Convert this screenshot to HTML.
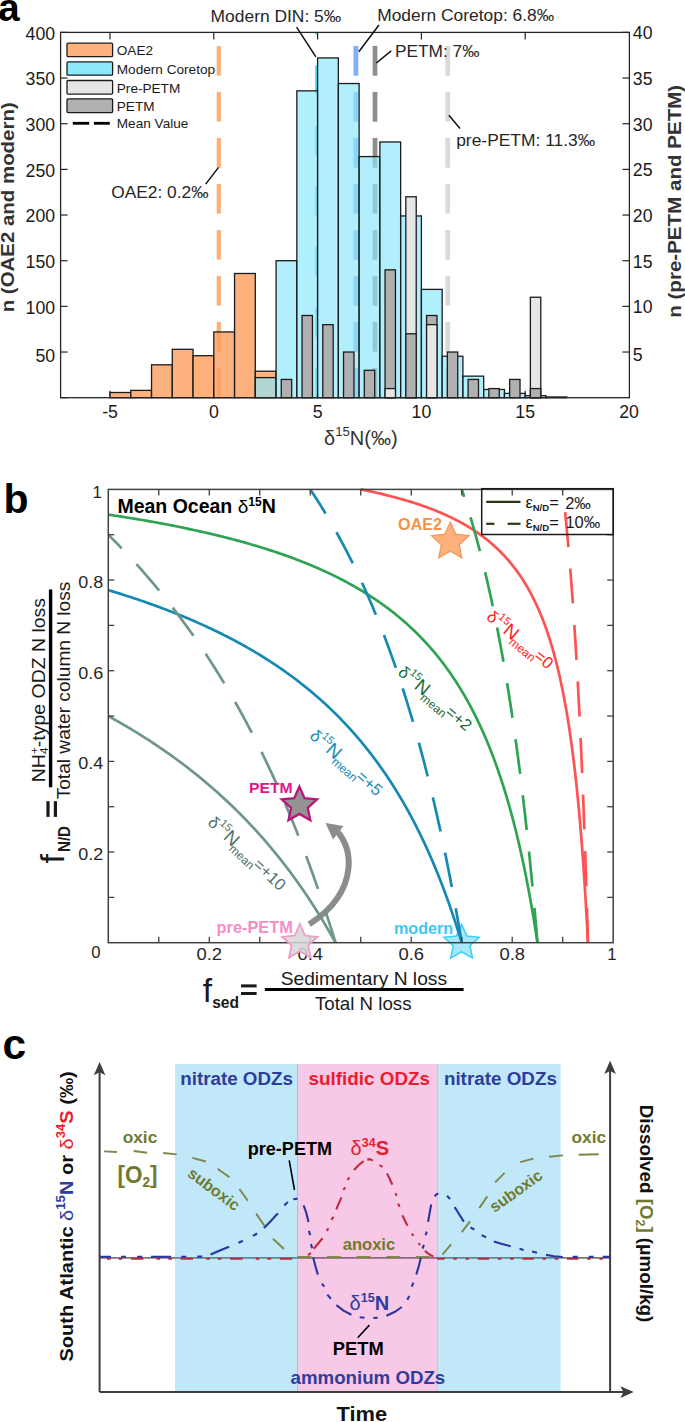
<!DOCTYPE html>
<html><head><meta charset="utf-8"><style>
html,body{margin:0;padding:0;background:#fff;}
svg{display:block;font-family:"Liberation Sans",sans-serif;}
</style></head><body>
<svg width="685" height="1422" viewBox="0 0 685 1422">
<rect width="685" height="1422" fill="#fff"/>
<line x1="218.8" y1="397.7" x2="218.8" y2="367.9" stroke="#fdb07a" stroke-width="4.2" />
<line x1="218.8" y1="351.7" x2="218.8" y2="321.9" stroke="#fdb07a" stroke-width="4.2" />
<line x1="218.8" y1="305.7" x2="218.8" y2="275.9" stroke="#fdb07a" stroke-width="4.2" />
<line x1="218.8" y1="259.7" x2="218.8" y2="229.9" stroke="#fdb07a" stroke-width="4.2" />
<line x1="218.8" y1="213.7" x2="218.8" y2="183.9" stroke="#fdb07a" stroke-width="4.2" />
<line x1="218.8" y1="167.7" x2="218.8" y2="137.9" stroke="#fdb07a" stroke-width="4.2" />
<line x1="218.8" y1="121.7" x2="218.8" y2="91.9" stroke="#fdb07a" stroke-width="4.2" />
<line x1="218.8" y1="75.7" x2="218.8" y2="45.9" stroke="#fdb07a" stroke-width="4.2" />
<line x1="316.6" y1="397.3" x2="316.6" y2="367.7" stroke="#45cdf6" stroke-width="2.6" />
<line x1="316.6" y1="336.8" x2="316.6" y2="307.2" stroke="#45cdf6" stroke-width="2.6" />
<line x1="316.6" y1="276.3" x2="316.6" y2="246.7" stroke="#45cdf6" stroke-width="2.6" />
<line x1="316.6" y1="215.8" x2="316.6" y2="186.2" stroke="#45cdf6" stroke-width="2.6" />
<line x1="316.6" y1="155.3" x2="316.6" y2="125.7" stroke="#45cdf6" stroke-width="2.6" />
<line x1="316.6" y1="94.8" x2="316.6" y2="65.2" stroke="#45cdf6" stroke-width="2.6" />
<line x1="316.6" y1="34.3" x2="316.6" y2="32.4" stroke="#45cdf6" stroke-width="2.6" />
<line x1="355.9" y1="397.7" x2="355.9" y2="367.9" stroke="#7fb0fa" stroke-width="4.8" />
<line x1="355.9" y1="351.7" x2="355.9" y2="321.9" stroke="#7fb0fa" stroke-width="4.8" />
<line x1="355.9" y1="305.7" x2="355.9" y2="275.9" stroke="#7fb0fa" stroke-width="4.8" />
<line x1="355.9" y1="259.7" x2="355.9" y2="229.9" stroke="#7fb0fa" stroke-width="4.8" />
<line x1="355.9" y1="213.7" x2="355.9" y2="183.9" stroke="#7fb0fa" stroke-width="4.8" />
<line x1="355.9" y1="167.7" x2="355.9" y2="137.9" stroke="#7fb0fa" stroke-width="4.8" />
<line x1="355.9" y1="121.7" x2="355.9" y2="91.9" stroke="#7fb0fa" stroke-width="4.8" />
<line x1="355.9" y1="75.7" x2="355.9" y2="45.9" stroke="#7fb0fa" stroke-width="4.8" />
<line x1="375" y1="397.7" x2="375" y2="367.9" stroke="#8f8f8f" stroke-width="4.8" />
<line x1="375" y1="351.7" x2="375" y2="321.9" stroke="#8f8f8f" stroke-width="4.8" />
<line x1="375" y1="305.7" x2="375" y2="275.9" stroke="#8f8f8f" stroke-width="4.8" />
<line x1="375" y1="259.7" x2="375" y2="229.9" stroke="#8f8f8f" stroke-width="4.8" />
<line x1="375" y1="213.7" x2="375" y2="183.9" stroke="#8f8f8f" stroke-width="4.8" />
<line x1="375" y1="167.7" x2="375" y2="137.9" stroke="#8f8f8f" stroke-width="4.8" />
<line x1="375" y1="121.7" x2="375" y2="91.9" stroke="#8f8f8f" stroke-width="4.8" />
<line x1="375" y1="75.7" x2="375" y2="45.9" stroke="#8f8f8f" stroke-width="4.8" />
<line x1="447.7" y1="397.7" x2="447.7" y2="367.9" stroke="#dadada" stroke-width="4.8" />
<line x1="447.7" y1="351.7" x2="447.7" y2="321.9" stroke="#dadada" stroke-width="4.8" />
<line x1="447.7" y1="305.7" x2="447.7" y2="275.9" stroke="#dadada" stroke-width="4.8" />
<line x1="447.7" y1="259.7" x2="447.7" y2="229.9" stroke="#dadada" stroke-width="4.8" />
<line x1="447.7" y1="213.7" x2="447.7" y2="183.9" stroke="#dadada" stroke-width="4.8" />
<line x1="447.7" y1="167.7" x2="447.7" y2="137.9" stroke="#dadada" stroke-width="4.8" />
<line x1="447.7" y1="121.7" x2="447.7" y2="91.9" stroke="#dadada" stroke-width="4.8" />
<line x1="447.7" y1="75.7" x2="447.7" y2="45.9" stroke="#dadada" stroke-width="4.8" />
<line x1="110" y1="397.7" x2="110" y2="390.7" stroke="#262626" stroke-width="1.2" />
<line x1="213.8" y1="397.7" x2="213.8" y2="390.7" stroke="#262626" stroke-width="1.2" />
<line x1="317.6" y1="397.7" x2="317.6" y2="390.7" stroke="#262626" stroke-width="1.2" />
<line x1="421.4" y1="397.7" x2="421.4" y2="390.7" stroke="#262626" stroke-width="1.2" />
<line x1="525.2" y1="397.7" x2="525.2" y2="390.7" stroke="#262626" stroke-width="1.2" />
<line x1="60.6" y1="397.7" x2="67.6" y2="397.7" stroke="#262626" stroke-width="1.2" />
<rect x="110" y="392.49" width="20.76" height="5.21" fill="#fc9f5c" stroke="#1c1c1c" stroke-width="1.3" fill-opacity="0.8"/>
<rect x="130.76" y="390.39" width="20.76" height="7.31" fill="#fc9f5c" stroke="#1c1c1c" stroke-width="1.3" fill-opacity="0.8"/>
<rect x="151.52" y="364.82" width="20.76" height="32.88" fill="#fc9f5c" stroke="#1c1c1c" stroke-width="1.3" fill-opacity="0.8"/>
<rect x="172.28" y="349.3" width="20.76" height="48.4" fill="#fc9f5c" stroke="#1c1c1c" stroke-width="1.3" fill-opacity="0.8"/>
<rect x="193.04" y="355.69" width="20.76" height="42.01" fill="#fc9f5c" stroke="#1c1c1c" stroke-width="1.3" fill-opacity="0.8"/>
<rect x="213.8" y="331.94" width="20.76" height="65.76" fill="#fc9f5c" stroke="#1c1c1c" stroke-width="1.3" fill-opacity="0.8"/>
<rect x="234.56" y="273.49" width="20.76" height="124.21" fill="#fc9f5c" stroke="#1c1c1c" stroke-width="1.3" fill-opacity="0.8"/>
<rect x="255.32" y="371.21" width="20.76" height="26.49" fill="#fc9f5c" stroke="#1c1c1c" stroke-width="1.3" fill-opacity="0.8"/>
<rect x="255.32" y="377.61" width="20.76" height="20.09" fill="#8ee8fc" stroke="#1c1c1c" stroke-width="1.3" fill-opacity="0.68"/>
<rect x="276.08" y="260.7" width="20.76" height="137" fill="#8ee8fc" stroke="#1c1c1c" stroke-width="1.3" fill-opacity="0.68"/>
<rect x="296.84" y="90.83" width="20.76" height="306.87" fill="#8ee8fc" stroke="#1c1c1c" stroke-width="1.3" fill-opacity="0.68"/>
<rect x="317.6" y="57.95" width="20.76" height="339.75" fill="#8ee8fc" stroke="#1c1c1c" stroke-width="1.3" fill-opacity="0.68"/>
<rect x="338.36" y="83.52" width="20.76" height="314.18" fill="#8ee8fc" stroke="#1c1c1c" stroke-width="1.3" fill-opacity="0.68"/>
<rect x="359.12" y="156.59" width="20.76" height="241.11" fill="#8ee8fc" stroke="#1c1c1c" stroke-width="1.3" fill-opacity="0.68"/>
<rect x="379.88" y="141.98" width="20.76" height="255.72" fill="#8ee8fc" stroke="#1c1c1c" stroke-width="1.3" fill-opacity="0.68"/>
<rect x="400.64" y="215.95" width="20.76" height="181.75" fill="#8ee8fc" stroke="#1c1c1c" stroke-width="1.3" fill-opacity="0.68"/>
<rect x="421.4" y="289.38" width="20.76" height="108.32" fill="#8ee8fc" stroke="#1c1c1c" stroke-width="1.3" fill-opacity="0.68"/>
<rect x="442.16" y="356.24" width="20.76" height="41.46" fill="#8ee8fc" stroke="#1c1c1c" stroke-width="1.3" fill-opacity="0.68"/>
<rect x="462.92" y="376.15" width="20.76" height="21.55" fill="#8ee8fc" stroke="#1c1c1c" stroke-width="1.3" fill-opacity="0.68"/>
<rect x="483.68" y="389.48" width="20.76" height="8.22" fill="#8ee8fc" stroke="#1c1c1c" stroke-width="1.3" fill-opacity="0.68"/>
<rect x="504.44" y="393.41" width="20.76" height="4.29" fill="#8ee8fc" stroke="#1c1c1c" stroke-width="1.3" fill-opacity="0.68"/>
<rect x="525.2" y="395.69" width="20.76" height="2.01" fill="#8ee8fc" stroke="#1c1c1c" stroke-width="1.3" fill-opacity="0.68"/>
<rect x="545.96" y="396.97" width="20.76" height="0.73" fill="#8ee8fc" stroke="#1c1c1c" stroke-width="1.3" fill-opacity="0.68"/>
<rect x="281.26" y="379.43" width="10.4" height="18.27" fill="#b0b0b0" stroke="#1c1c1c" stroke-width="1.3" />
<rect x="302.02" y="315.5" width="10.4" height="82.2" fill="#b0b0b0" stroke="#1c1c1c" stroke-width="1.3" />
<rect x="322.78" y="324.64" width="10.4" height="73.06" fill="#b0b0b0" stroke="#1c1c1c" stroke-width="1.3" />
<rect x="343.54" y="352.03" width="10.4" height="45.67" fill="#b0b0b0" stroke="#1c1c1c" stroke-width="1.3" />
<rect x="364.3" y="370.3" width="10.4" height="27.4" fill="#b0b0b0" stroke="#1c1c1c" stroke-width="1.3" />
<rect x="385.06" y="269.84" width="10.4" height="127.86" fill="#b0b0b0" stroke="#1c1c1c" stroke-width="1.3" />
<rect x="385.06" y="388.57" width="10.4" height="9.13" fill="#e6e6e6" stroke="#1c1c1c" stroke-width="1.3" />
<rect x="405.82" y="196.77" width="10.4" height="200.93" fill="#e6e6e6" stroke="#1c1c1c" stroke-width="1.3" />
<rect x="405.82" y="333.77" width="10.4" height="63.93" fill="#b0b0b0" stroke="#1c1c1c" stroke-width="1.3" />
<rect x="426.58" y="315.5" width="10.4" height="82.2" fill="#b0b0b0" stroke="#1c1c1c" stroke-width="1.3" />
<rect x="426.58" y="324.64" width="10.4" height="73.06" fill="#e6e6e6" stroke="#1c1c1c" stroke-width="1.3" />
<rect x="447.34" y="352.03" width="10.4" height="45.67" fill="#b0b0b0" stroke="#1c1c1c" stroke-width="1.3" />
<rect x="468.1" y="379.43" width="10.4" height="18.27" fill="#b0b0b0" stroke="#1c1c1c" stroke-width="1.3" />
<rect x="488.86" y="388.57" width="10.4" height="9.13" fill="#b0b0b0" stroke="#1c1c1c" stroke-width="1.3" />
<rect x="509.62" y="379.43" width="10.4" height="18.27" fill="#b0b0b0" stroke="#1c1c1c" stroke-width="1.3" />
<rect x="530.38" y="297.24" width="10.4" height="100.46" fill="#e6e6e6" stroke="#1c1c1c" stroke-width="1.3" />
<rect x="530.38" y="388.57" width="10.4" height="9.13" fill="#b0b0b0" stroke="#1c1c1c" stroke-width="1.3" />
<rect x="60.6" y="32.4" width="568.8" height="365.3" fill="none" stroke="#262626" stroke-width="1.3" />
<line x1="60.6" y1="352.03" x2="67.6" y2="352.03" stroke="#262626" stroke-width="1.2" />
<text x="55.1" y="361.94" font-size="17.7" fill="#1a1a1a" text-anchor="end" >50</text>
<line x1="60.6" y1="306.37" x2="67.6" y2="306.37" stroke="#262626" stroke-width="1.2" />
<text x="55.1" y="313.67" font-size="17.7" fill="#1a1a1a" text-anchor="end" >100</text>
<line x1="60.6" y1="260.7" x2="67.6" y2="260.7" stroke="#262626" stroke-width="1.2" />
<text x="55.1" y="268" font-size="17.7" fill="#1a1a1a" text-anchor="end" >150</text>
<line x1="60.6" y1="215.04" x2="67.6" y2="215.04" stroke="#262626" stroke-width="1.2" />
<text x="55.1" y="222.34" font-size="17.7" fill="#1a1a1a" text-anchor="end" >200</text>
<line x1="60.6" y1="169.38" x2="67.6" y2="169.38" stroke="#262626" stroke-width="1.2" />
<text x="55.1" y="176.68" font-size="17.7" fill="#1a1a1a" text-anchor="end" >250</text>
<line x1="60.6" y1="123.71" x2="67.6" y2="123.71" stroke="#262626" stroke-width="1.2" />
<text x="55.1" y="131.01" font-size="17.7" fill="#1a1a1a" text-anchor="end" >300</text>
<line x1="60.6" y1="78.05" x2="67.6" y2="78.05" stroke="#262626" stroke-width="1.2" />
<text x="55.1" y="85.35" font-size="17.7" fill="#1a1a1a" text-anchor="end" >350</text>
<line x1="60.6" y1="32.38" x2="67.6" y2="32.38" stroke="#262626" stroke-width="1.2" />
<text x="55.1" y="39.68" font-size="17.7" fill="#1a1a1a" text-anchor="end" >400</text>
<line x1="629.4" y1="352.03" x2="622.4" y2="352.03" stroke="#262626" stroke-width="1.2" />
<text x="632.8" y="361.33" font-size="17.7" fill="#1a1a1a" text-anchor="start" >5</text>
<line x1="629.4" y1="306.37" x2="622.4" y2="306.37" stroke="#262626" stroke-width="1.2" />
<text x="632.8" y="313.27" font-size="17.7" fill="#1a1a1a" text-anchor="start" >10</text>
<line x1="629.4" y1="260.71" x2="622.4" y2="260.71" stroke="#262626" stroke-width="1.2" />
<text x="632.8" y="267.61" font-size="17.7" fill="#1a1a1a" text-anchor="start" >15</text>
<line x1="629.4" y1="215.04" x2="622.4" y2="215.04" stroke="#262626" stroke-width="1.2" />
<text x="632.8" y="221.94" font-size="17.7" fill="#1a1a1a" text-anchor="start" >20</text>
<line x1="629.4" y1="169.38" x2="622.4" y2="169.38" stroke="#262626" stroke-width="1.2" />
<text x="632.8" y="176.28" font-size="17.7" fill="#1a1a1a" text-anchor="start" >25</text>
<line x1="629.4" y1="123.71" x2="622.4" y2="123.71" stroke="#262626" stroke-width="1.2" />
<text x="632.8" y="130.61" font-size="17.7" fill="#1a1a1a" text-anchor="start" >30</text>
<line x1="629.4" y1="78.05" x2="622.4" y2="78.05" stroke="#262626" stroke-width="1.2" />
<text x="632.8" y="84.95" font-size="17.7" fill="#1a1a1a" text-anchor="start" >35</text>
<line x1="629.4" y1="32.38" x2="622.4" y2="32.38" stroke="#262626" stroke-width="1.2" />
<text x="632.8" y="39.28" font-size="17.7" fill="#1a1a1a" text-anchor="start" >40</text>
<line x1="110" y1="32.4" x2="110" y2="39.4" stroke="#262626" stroke-width="1.2" />
<text x="110" y="418.1" font-size="17.7" fill="#1a1a1a" text-anchor="middle" >-5</text>
<line x1="213.8" y1="32.4" x2="213.8" y2="39.4" stroke="#262626" stroke-width="1.2" />
<text x="213.8" y="418.1" font-size="17.7" fill="#1a1a1a" text-anchor="middle" >0</text>
<line x1="317.6" y1="32.4" x2="317.6" y2="39.4" stroke="#262626" stroke-width="1.2" />
<text x="317.6" y="418.1" font-size="17.7" fill="#1a1a1a" text-anchor="middle" >5</text>
<line x1="421.4" y1="32.4" x2="421.4" y2="39.4" stroke="#262626" stroke-width="1.2" />
<text x="421.4" y="418.1" font-size="17.7" fill="#1a1a1a" text-anchor="middle" >10</text>
<line x1="525.2" y1="32.4" x2="525.2" y2="39.4" stroke="#262626" stroke-width="1.2" />
<text x="525.2" y="418.1" font-size="17.7" fill="#1a1a1a" text-anchor="middle" >15</text>
<text x="629" y="418.1" font-size="17.7" fill="#1a1a1a" text-anchor="middle" >20</text>
<text x="324" y="444.5" font-size="20" fill="#333">δ<tspan font-size="13.2" dy="-8.5">15</tspan><tspan dy="8.5">N(‰)</tspan></text>
<text transform="translate(14.2,207.3) rotate(-90)" font-size="18" font-weight="bold" fill="#333" text-anchor="middle" textLength="210" lengthAdjust="spacingAndGlyphs">n (OAE2 and modern)</text>
<text transform="translate(667,201.3) rotate(-90)" font-size="19" font-weight="bold" fill="#333" text-anchor="middle" dominant-baseline="hanging" textLength="233" lengthAdjust="spacingAndGlyphs">n (pre-PETM and PETM)</text>
<rect x="67" y="43.2" width="45.6" height="13.5" fill="#fdb27e" stroke="#1c1c1c" stroke-width="1.3" rx="1"/>
<text x="116.8" y="55.4" font-size="13.6" fill="#1a1a1a" text-anchor="start" >OAE2</text>
<rect x="67" y="61.9" width="45.6" height="13.3" fill="#8ee8fc" stroke="#1c1c1c" stroke-width="1.3" rx="1"/>
<text x="116.8" y="73.9" font-size="13.6" fill="#1a1a1a" text-anchor="start" >Modern Coretop</text>
<rect x="67" y="80.5" width="45.6" height="13.6" fill="#e6e6e6" stroke="#1c1c1c" stroke-width="1.3" rx="1"/>
<text x="116.8" y="92.8" font-size="13.6" fill="#1a1a1a" text-anchor="start" >Pre-PETM</text>
<rect x="67" y="98.8" width="45.6" height="13.8" fill="#b0b0b0" stroke="#1c1c1c" stroke-width="1.3" rx="1"/>
<text x="116.8" y="111.3" font-size="13.6" fill="#1a1a1a" text-anchor="start" >PETM</text>
<line x1="72.8" y1="123.3" x2="89.2" y2="123.3" stroke="#000" stroke-width="2.8" />
<line x1="93.9" y1="123.3" x2="109.8" y2="123.3" stroke="#000" stroke-width="2.8" />
<text x="116.8" y="128" font-size="13.6" fill="#1a1a1a" text-anchor="start" >Mean Value</text>
<text x="210.6" y="22.3" font-size="17.1" fill="#262626" text-anchor="start" textLength="130.6" lengthAdjust="spacingAndGlyphs" >Modern DIN: 5‰</text>
<line x1="296.6" y1="27.2" x2="315.9" y2="56.9" stroke="#111" stroke-width="1.5" />
<text x="377.2" y="20.8" font-size="17.1" fill="#262626" text-anchor="start" textLength="177" lengthAdjust="spacingAndGlyphs" >Modern Coretop: 6.8‰</text>
<line x1="379" y1="25" x2="358.8" y2="51.7" stroke="#111" stroke-width="1.5" />
<text x="395" y="56.9" font-size="17.1" fill="#262626" text-anchor="start" textLength="84.5" lengthAdjust="spacingAndGlyphs" >PETM: 7‰</text>
<line x1="391.2" y1="50.8" x2="376.4" y2="63" stroke="#111" stroke-width="1.5" />
<text x="456.2" y="145.8" font-size="17.1" fill="#262626" text-anchor="start" textLength="139" lengthAdjust="spacingAndGlyphs" >pre-PETM: 11.3‰</text>
<line x1="448.9" y1="115.3" x2="460" y2="128.6" stroke="#111" stroke-width="1.5" />
<text x="111.2" y="197.6" font-size="17.1" fill="#262626" text-anchor="start" textLength="97.3" lengthAdjust="spacingAndGlyphs" >OAE2: 0.2‰</text>
<line x1="205.7" y1="184.1" x2="218.5" y2="167.4" stroke="#111" stroke-width="1.5" />
<text x="-1.8" y="21.3" font-size="38.5" fill="#000" font-weight="bold" text-anchor="start" >a</text>
<path d="M309.2,924.2 C330,911 346,893 348.5,868 C350,851 345,840 336.5,830.5" fill="none" stroke="#8c8c8c" stroke-width="6"/>
<path d="M325.5,823 L343.5,826 L333,839.5 Z" fill="#8c8c8c"/>
<path d="M461.6,924.4 L466.74,935.93 L479.29,937.25 L469.91,945.7 L472.53,958.05 L461.6,951.74 L450.67,958.05 L453.29,945.7 L443.91,937.25 L456.46,935.93Z" fill="#a8e8fa" stroke="#3ccff5" stroke-width="1.5" stroke-linejoin="miter" />
<path d="M587.96,942.7 L587.9,941.57 L587.84,940.43 L587.78,939.3 L587.73,938.17 L587.67,937.03 L587.61,935.9 L587.55,934.77 L587.49,933.63 L587.43,932.5 L587.37,931.37 L587.31,930.23 L587.25,929.1 L587.19,927.97 L587.13,926.83 L587.07,925.7 L587.01,924.57 L586.95,923.43 L586.89,922.3 L586.83,921.17 L586.77,920.04 L586.7,918.9 L586.64,917.77 L586.58,916.64 L586.51,915.5 L586.45,914.37 L586.39,913.24 L586.32,912.1 L586.26,910.97 L586.19,909.84 L586.13,908.7 L586.06,907.57 L586,906.44 L585.93,905.3 L585.86,904.17 L585.8,903.04 L585.73,901.9 L585.66,900.77 L585.59,899.64 L585.53,898.5 L585.46,897.37 L585.39,896.24 L585.32,895.1 L585.25,893.97 L585.18,892.84 L585.11,891.7 L585.04,890.57 L584.97,889.44 L584.9,888.3 L584.83,887.17 L584.75,886.04 L584.68,884.9 L584.61,883.77 L584.54,882.64 L584.46,881.5 L584.39,880.37 L584.32,879.24 L584.24,878.1 L584.17,876.97 L584.09,875.84 L584.02,874.71 L583.94,873.57 L583.86,872.44 L583.79,871.31 L583.71,870.17 L583.63,869.04 L583.55,867.91 L583.47,866.77 L583.39,865.64 L583.32,864.51 L583.24,863.37 L583.16,862.24 L583.07,861.11 L582.99,859.97 L582.91,858.84 L582.83,857.71 L582.75,856.57 L582.66,855.44 L582.58,854.31 L582.5,853.17 L582.41,852.04 L582.33,850.91 L582.24,849.77 L582.16,848.64 L582.07,847.51 L581.99,846.37 L581.9,845.24 L581.81,844.11 L581.72,842.97 L581.63,841.84 L581.54,840.71 L581.46,839.57 L581.37,838.44 L581.27,837.31 L581.18,836.17 L581.09,835.04 L581,833.91 L580.91,832.77 L580.81,831.64 L580.72,830.51 L580.63,829.38 L580.53,828.24 L580.44,827.11 L580.34,825.98 L580.24,824.84 L580.15,823.71 L580.05,822.58 L579.95,821.44 L579.85,820.31 L579.75,819.18 L579.65,818.04 L579.55,816.91 L579.45,815.78 L579.35,814.64 L579.25,813.51 L579.14,812.38 L579.04,811.24 L578.93,810.11 L578.83,808.98 L578.72,807.84 L578.62,806.71 L578.51,805.58 L578.4,804.44 L578.3,803.31 L578.19,802.18 L578.08,801.04 L577.97,799.91 L577.86,798.78 L577.74,797.64 L577.63,796.51 L577.52,795.38 L577.4,794.24 L577.29,793.11 L577.17,791.98 L577.06,790.84 L576.94,789.71 L576.82,788.58 L576.71,787.44 L576.59,786.31 L576.47,785.18 L576.35,784.05 L576.22,782.91 L576.1,781.78 L575.98,780.65 L575.86,779.51 L575.73,778.38 L575.61,777.25 L575.48,776.11 L575.35,774.98 L575.22,773.85 L575.09,772.71 L574.96,771.58 L574.83,770.45 L574.7,769.31 L574.57,768.18 L574.44,767.05 L574.3,765.91 L574.17,764.78 L574.03,763.65 L573.89,762.51 L573.75,761.38 L573.62,760.25 L573.48,759.11 L573.33,757.98 L573.19,756.85 L573.05,755.71 L572.9,754.58 L572.76,753.45 L572.61,752.31 L572.47,751.18 L572.32,750.05 L572.17,748.91 L572.02,747.78 L571.87,746.65 L571.71,745.51 L571.56,744.38 L571.4,743.25 L571.25,742.11 L571.09,740.98 L570.93,739.85 L570.77,738.72 L570.61,737.58 L570.45,736.45 L570.28,735.32 L570.12,734.18 L569.95,733.05 L569.79,731.92 L569.62,730.78 L569.45,729.65 L569.28,728.52 L569.1,727.38 L568.93,726.25 L568.75,725.12 L568.58,723.98 L568.4,722.85 L568.22,721.72 L568.04,720.58 L567.86,719.45 L567.67,718.32 L567.49,717.18 L567.3,716.05 L567.11,714.92 L566.92,713.78 L566.73,712.65 L566.54,711.52 L566.34,710.38 L566.15,709.25 L565.95,708.12 L565.75,706.98 L565.55,705.85 L565.34,704.72 L565.14,703.58 L564.93,702.45 L564.72,701.32 L564.51,700.18 L564.3,699.05 L564.09,697.92 L563.87,696.78 L563.65,695.65 L563.43,694.52 L563.21,693.38 L562.99,692.25 L562.76,691.12 L562.53,689.99 L562.3,688.85 L562.07,687.72 L561.84,686.59 L561.6,685.45 L561.36,684.32 L561.12,683.19 L560.88,682.05 L560.63,680.92 L560.39,679.79 L560.14,678.65 L559.88,677.52 L559.63,676.39 L559.37,675.25 L559.11,674.12 L558.85,672.99 L558.59,671.85 L558.32,670.72 L558.05,669.59 L557.78,668.45 L557.5,667.32 L557.22,666.19 L556.94,665.05 L556.66,663.92 L556.37,662.79 L556.08,661.65 L555.79,660.52 L555.5,659.39 L555.2,658.25 L554.9,657.12 L554.59,655.99 L554.29,654.85 L553.97,653.72 L553.66,652.59 L553.34,651.45 L553.02,650.32 L552.7,649.19 L552.37,648.06 L552.04,646.92 L551.7,645.79 L551.36,644.66 L551.02,643.52 L550.67,642.39 L550.32,641.26 L549.97,640.12 L549.61,638.99 L549.25,637.86 L548.88,636.72 L548.51,635.59 L548.14,634.46 L547.76,633.32 L547.37,632.19 L546.98,631.06 L546.59,629.92 L546.19,628.79 L545.79,627.66 L545.38,626.52 L544.97,625.39 L544.55,624.26 L544.13,623.12 L543.7,621.99 L543.27,620.86 L542.83,619.72 L542.39,618.59 L541.94,617.46 L541.48,616.32 L541.02,615.19 L540.55,614.06 L540.08,612.92 L539.6,611.79 L539.11,610.66 L538.62,609.52 L538.12,608.39 L537.62,607.26 L537.1,606.12 L536.58,604.99 L536.06,603.86 L535.52,602.73 L534.98,601.59 L534.43,600.46 L533.88,599.33 L533.31,598.19 L532.74,597.06 L532.16,595.93 L531.57,594.79 L530.97,593.66 L530.36,592.53 L529.75,591.39 L529.12,590.26 L528.49,589.13 L527.84,587.99 L527.19,586.86 L526.52,585.73 L525.85,584.59 L525.16,583.46 L524.47,582.33 L523.76,581.19 L523.04,580.06 L522.31,578.93 L521.57,577.79 L520.81,576.66 L520.05,575.53 L519.27,574.39 L518.47,573.26 L517.67,572.13 L516.85,570.99 L516.01,569.86 L515.16,568.73 L514.3,567.59 L513.42,566.46 L512.52,565.33 L511.61,564.19 L510.68,563.06 L509.74,561.93 L508.77,560.79 L507.79,559.66 L506.79,558.53 L505.77,557.39 L504.74,556.26 L503.68,555.13 L502.6,554 L501.5,552.86 L500.37,551.73 L499.23,550.6 L498.06,549.46 L496.86,548.33 L495.64,547.2 L494.4,546.06 L493.13,544.93 L491.83,543.8 L490.5,542.66 L489.15,541.53 L487.76,540.4 L486.34,539.26 L484.89,538.13 L483.41,537 L481.89,535.86 L480.33,534.73 L478.74,533.6 L477.11,532.46 L475.44,531.33 L473.72,530.2 L471.97,529.06 L470.17,527.93 L468.32,526.8 L466.43,525.66 L464.48,524.53 L462.48,523.4 L460.43,522.26 L458.32,521.13 L456.15,520 L453.93,518.86 L451.63,517.73 L449.27,516.6 L446.84,515.46 L444.34,514.33 L441.76,513.2 L439.1,512.07 L436.35,510.93 L433.52,509.8 L430.6,508.67 L427.57,507.53 L424.45,506.4 L421.22,505.27 L417.88,504.13 L414.42,503 L410.84,501.87 L407.12,500.73 L403.26,499.6 L399.26,498.47 L395.1,497.33 L390.78,496.2 L386.28,495.07 L381.59,493.93 L376.71,492.8 L371.62,491.67 L366.31,490.53 L360.75,489.4" fill="none" stroke="#ff5252" stroke-width="2.7" stroke-linejoin="round"/>
<path d="M587.96,942.7 L587.92,941.57 L587.89,940.43 L587.86,939.3 L587.83,938.17 L587.8,937.03 L587.76,935.9 L587.73,934.77 L587.7,933.63 L587.67,932.5 L587.64,931.37 L587.6,930.23 L587.57,929.1 L587.54,927.97 L587.51,926.83 L587.47,925.7 L587.44,924.57 L587.41,923.43 L587.37,922.3 L587.34,921.17 L587.31,920.04 L587.27,918.9 L587.24,917.77 L587.21,916.64 L587.17,915.5 L587.14,914.37 L587.11,913.24 L587.07,912.1 L587.04,910.97 L587.01,909.84 L586.97,908.7 L586.94,907.57 L586.9,906.44 L586.87,905.3 L586.83,904.17 L586.8,903.04 L586.77,901.9 L586.73,900.77 L586.7,899.64 L586.66,898.5 L586.63,897.37 L586.59,896.24 L586.56,895.1 L586.52,893.97 L586.49,892.84 L586.45,891.7 L586.41,890.57 L586.38,889.44 L586.34,888.3 L586.31,887.17 L586.27,886.04 L586.24,884.9 L586.2,883.77 L586.16,882.64 L586.13,881.5 L586.09,880.37 L586.05,879.24 L586.02,878.1 L585.98,876.97 L585.94,875.84 L585.91,874.71 L585.87,873.57 L585.83,872.44 L585.8,871.31 L585.76,870.17 L585.72,869.04 L585.69,867.91 L585.65,866.77 L585.61,865.64 L585.57,864.51 L585.53,863.37 L585.5,862.24 L585.46,861.11 L585.42,859.97 L585.38,858.84 L585.34,857.71 L585.3,856.57 L585.27,855.44 L585.23,854.31 L585.19,853.17 L585.15,852.04 L585.11,850.91 L585.07,849.77 L585.03,848.64 L584.99,847.51 L584.95,846.37 L584.91,845.24 L584.87,844.11 L584.83,842.97 L584.79,841.84 L584.75,840.71 L584.71,839.57 L584.67,838.44 L584.63,837.31 L584.59,836.17 L584.55,835.04 L584.51,833.91 L584.47,832.77 L584.43,831.64 L584.39,830.51 L584.35,829.38 L584.31,828.24 L584.27,827.11 L584.22,825.98 L584.18,824.84 L584.14,823.71 L584.1,822.58 L584.06,821.44 L584.02,820.31 L583.97,819.18 L583.93,818.04 L583.89,816.91 L583.85,815.78 L583.8,814.64 L583.76,813.51 L583.72,812.38 L583.67,811.24 L583.63,810.11 L583.59,808.98 L583.54,807.84 L583.5,806.71 L583.46,805.58 L583.41,804.44 L583.37,803.31 L583.32,802.18 L583.28,801.04 L583.24,799.91 L583.19,798.78 L583.15,797.64 L583.1,796.51 L583.06,795.38 L583.01,794.24 L582.97,793.11 L582.92,791.98 L582.88,790.84 L582.83,789.71 L582.78,788.58 L582.74,787.44 L582.69,786.31 L582.65,785.18 L582.6,784.05 L582.55,782.91 L582.51,781.78 L582.46,780.65 L582.41,779.51 L582.37,778.38 L582.32,777.25 L582.27,776.11 L582.22,774.98 L582.18,773.85 L582.13,772.71 L582.08,771.58 L582.03,770.45 L581.99,769.31 L581.94,768.18 L581.89,767.05 L581.84,765.91 L581.79,764.78 L581.74,763.65 L581.69,762.51 L581.64,761.38 L581.59,760.25 L581.54,759.11 L581.5,757.98 L581.45,756.85 L581.4,755.71 L581.35,754.58 L581.29,753.45 L581.24,752.31 L581.19,751.18 L581.14,750.05 L581.09,748.91 L581.04,747.78 L580.99,746.65 L580.94,745.51 L580.89,744.38 L580.83,743.25 L580.78,742.11 L580.73,740.98 L580.68,739.85 L580.63,738.72 L580.57,737.58 L580.52,736.45 L580.47,735.32 L580.41,734.18 L580.36,733.05 L580.31,731.92 L580.25,730.78 L580.2,729.65 L580.15,728.52 L580.09,727.38 L580.04,726.25 L579.98,725.12 L579.93,723.98 L579.87,722.85 L579.82,721.72 L579.76,720.58 L579.71,719.45 L579.65,718.32 L579.6,717.18 L579.54,716.05 L579.48,714.92 L579.43,713.78 L579.37,712.65 L579.31,711.52 L579.26,710.38 L579.2,709.25 L579.14,708.12 L579.09,706.98 L579.03,705.85 L578.97,704.72 L578.91,703.58 L578.85,702.45 L578.79,701.32 L578.74,700.18 L578.68,699.05 L578.62,697.92 L578.56,696.78 L578.5,695.65 L578.44,694.52 L578.38,693.38 L578.32,692.25 L578.26,691.12 L578.2,689.99 L578.14,688.85 L578.08,687.72 L578.02,686.59 L577.95,685.45 L577.89,684.32 L577.83,683.19 L577.77,682.05 L577.71,680.92 L577.64,679.79 L577.58,678.65 L577.52,677.52 L577.45,676.39 L577.39,675.25 L577.33,674.12 L577.26,672.99 L577.2,671.85 L577.14,670.72 L577.07,669.59 L577.01,668.45 L576.94,667.32 L576.88,666.19 L576.81,665.05 L576.75,663.92 L576.68,662.79 L576.61,661.65 L576.55,660.52 L576.48,659.39 L576.41,658.25 L576.35,657.12 L576.28,655.99 L576.21,654.85 L576.14,653.72 L576.08,652.59 L576.01,651.45 L575.94,650.32 L575.87,649.19 L575.8,648.06 L575.73,646.92 L575.66,645.79 L575.59,644.66 L575.52,643.52 L575.45,642.39 L575.38,641.26 L575.31,640.12 L575.24,638.99 L575.17,637.86 L575.09,636.72 L575.02,635.59 L574.95,634.46 L574.88,633.32 L574.8,632.19 L574.73,631.06 L574.66,629.92 L574.58,628.79 L574.51,627.66 L574.44,626.52 L574.36,625.39 L574.29,624.26 L574.21,623.12 L574.14,621.99 L574.06,620.86 L573.98,619.72 L573.91,618.59 L573.83,617.46 L573.75,616.32 L573.68,615.19 L573.6,614.06 L573.52,612.92 L573.44,611.79 L573.37,610.66 L573.29,609.52 L573.21,608.39 L573.13,607.26 L573.05,606.12 L572.97,604.99 L572.89,603.86 L572.81,602.73 L572.73,601.59 L572.65,600.46 L572.56,599.33 L572.48,598.19 L572.4,597.06 L572.32,595.93 L572.23,594.79 L572.15,593.66 L572.07,592.53 L571.98,591.39 L571.9,590.26 L571.81,589.13 L571.73,587.99 L571.64,586.86 L571.56,585.73 L571.47,584.59 L571.39,583.46 L571.3,582.33 L571.21,581.19 L571.12,580.06 L571.04,578.93 L570.95,577.79 L570.86,576.66 L570.77,575.53 L570.68,574.39 L570.59,573.26 L570.5,572.13 L570.41,570.99 L570.32,569.86 L570.23,568.73 L570.14,567.59 L570.05,566.46 L569.95,565.33 L569.86,564.19 L569.77,563.06 L569.67,561.93 L569.58,560.79 L569.49,559.66 L569.39,558.53 L569.3,557.39 L569.2,556.26 L569.1,555.13 L569.01,554 L568.91,552.86 L568.81,551.73 L568.72,550.6 L568.62,549.46 L568.52,548.33 L568.42,547.2 L568.32,546.06 L568.22,544.93 L568.12,543.8 L568.02,542.66 L567.92,541.53 L567.82,540.4 L567.71,539.26 L567.61,538.13 L567.51,537 L567.4,535.86 L567.3,534.73 L567.2,533.6 L567.09,532.46 L566.98,531.33 L566.88,530.2 L566.77,529.06 L566.67,527.93 L566.56,526.8 L566.45,525.66 L566.34,524.53 L566.23,523.4 L566.12,522.26 L566.01,521.13 L565.9,520 L565.79,518.86 L565.68,517.73 L565.57,516.6 L565.46,515.46 L565.34,514.33 L565.23,513.2 L565.11,512.07 L565,510.93 L564.88,509.8 L564.77,508.67 L564.65,507.53 L564.53,506.4 L564.42,505.27 L564.3,504.13 L564.18,503 L564.06,501.87 L563.94,500.73 L563.82,499.6 L563.7,498.47 L563.58,497.33 L563.46,496.2 L563.33,495.07 L563.21,493.93 L563.09,492.8 L562.96,491.67 L562.84,490.53 L562.71,489.4" fill="none" stroke="#ff5252" stroke-width="2.7" stroke-dasharray="35 21.6" stroke-linejoin="round"/>
<path d="M537.47,942.7 L537.29,941.57 L537.12,940.43 L536.95,939.3 L536.78,938.17 L536.6,937.03 L536.43,935.9 L536.25,934.77 L536.08,933.63 L535.9,932.5 L535.72,931.37 L535.54,930.23 L535.36,929.1 L535.18,927.97 L535,926.83 L534.82,925.7 L534.64,924.57 L534.45,923.43 L534.27,922.3 L534.08,921.17 L533.9,920.04 L533.71,918.9 L533.52,917.77 L533.33,916.64 L533.14,915.5 L532.95,914.37 L532.76,913.24 L532.57,912.1 L532.37,910.97 L532.18,909.84 L531.98,908.7 L531.79,907.57 L531.59,906.44 L531.39,905.3 L531.19,904.17 L530.99,903.04 L530.79,901.9 L530.59,900.77 L530.38,899.64 L530.18,898.5 L529.97,897.37 L529.77,896.24 L529.56,895.1 L529.35,893.97 L529.14,892.84 L528.93,891.7 L528.72,890.57 L528.51,889.44 L528.3,888.3 L528.08,887.17 L527.86,886.04 L527.65,884.9 L527.43,883.77 L527.21,882.64 L526.99,881.5 L526.77,880.37 L526.55,879.24 L526.32,878.1 L526.1,876.97 L525.87,875.84 L525.65,874.71 L525.42,873.57 L525.19,872.44 L524.96,871.31 L524.72,870.17 L524.49,869.04 L524.26,867.91 L524.02,866.77 L523.78,865.64 L523.55,864.51 L523.31,863.37 L523.07,862.24 L522.82,861.11 L522.58,859.97 L522.34,858.84 L522.09,857.71 L521.84,856.57 L521.59,855.44 L521.34,854.31 L521.09,853.17 L520.84,852.04 L520.59,850.91 L520.33,849.77 L520.07,848.64 L519.82,847.51 L519.56,846.37 L519.29,845.24 L519.03,844.11 L518.77,842.97 L518.5,841.84 L518.23,840.71 L517.97,839.57 L517.7,838.44 L517.42,837.31 L517.15,836.17 L516.88,835.04 L516.6,833.91 L516.32,832.77 L516.04,831.64 L515.76,830.51 L515.48,829.38 L515.19,828.24 L514.91,827.11 L514.62,825.98 L514.33,824.84 L514.04,823.71 L513.74,822.58 L513.45,821.44 L513.15,820.31 L512.86,819.18 L512.56,818.04 L512.25,816.91 L511.95,815.78 L511.64,814.64 L511.34,813.51 L511.03,812.38 L510.72,811.24 L510.4,810.11 L510.09,808.98 L509.77,807.84 L509.45,806.71 L509.13,805.58 L508.81,804.44 L508.49,803.31 L508.16,802.18 L507.83,801.04 L507.5,799.91 L507.17,798.78 L506.83,797.64 L506.49,796.51 L506.15,795.38 L505.81,794.24 L505.47,793.11 L505.12,791.98 L504.77,790.84 L504.42,789.71 L504.07,788.58 L503.72,787.44 L503.36,786.31 L503,785.18 L502.64,784.05 L502.27,782.91 L501.91,781.78 L501.54,780.65 L501.17,779.51 L500.79,778.38 L500.42,777.25 L500.04,776.11 L499.65,774.98 L499.27,773.85 L498.88,772.71 L498.49,771.58 L498.1,770.45 L497.71,769.31 L497.31,768.18 L496.91,767.05 L496.51,765.91 L496.1,764.78 L495.69,763.65 L495.28,762.51 L494.86,761.38 L494.45,760.25 L494.03,759.11 L493.6,757.98 L493.18,756.85 L492.75,755.71 L492.31,754.58 L491.88,753.45 L491.44,752.31 L491,751.18 L490.55,750.05 L490.1,748.91 L489.65,747.78 L489.2,746.65 L488.74,745.51 L488.28,744.38 L487.81,743.25 L487.34,742.11 L486.87,740.98 L486.39,739.85 L485.91,738.72 L485.43,737.58 L484.94,736.45 L484.45,735.32 L483.96,734.18 L483.46,733.05 L482.96,731.92 L482.45,730.78 L481.94,729.65 L481.43,728.52 L480.91,727.38 L480.39,726.25 L479.86,725.12 L479.33,723.98 L478.8,722.85 L478.26,721.72 L477.72,720.58 L477.17,719.45 L476.62,718.32 L476.06,717.18 L475.5,716.05 L474.93,714.92 L474.36,713.78 L473.79,712.65 L473.21,711.52 L472.62,710.38 L472.04,709.25 L471.44,708.12 L470.84,706.98 L470.24,705.85 L469.63,704.72 L469.01,703.58 L468.39,702.45 L467.77,701.32 L467.13,700.18 L466.5,699.05 L465.86,697.92 L465.21,696.78 L464.55,695.65 L463.89,694.52 L463.23,693.38 L462.56,692.25 L461.88,691.12 L461.2,689.99 L460.51,688.85 L459.81,687.72 L459.11,686.59 L458.4,685.45 L457.69,684.32 L456.96,683.19 L456.24,682.05 L455.5,680.92 L454.76,679.79 L454.01,678.65 L453.25,677.52 L452.49,676.39 L451.72,675.25 L450.94,674.12 L450.15,672.99 L449.36,671.85 L448.56,670.72 L447.75,669.59 L446.93,668.45 L446.11,667.32 L445.27,666.19 L444.43,665.05 L443.58,663.92 L442.72,662.79 L441.85,661.65 L440.98,660.52 L440.09,659.39 L439.2,658.25 L438.29,657.12 L437.38,655.99 L436.46,654.85 L435.52,653.72 L434.58,652.59 L433.63,651.45 L432.66,650.32 L431.69,649.19 L430.71,648.06 L429.71,646.92 L428.71,645.79 L427.69,644.66 L426.66,643.52 L425.62,642.39 L424.57,641.26 L423.51,640.12 L422.43,638.99 L421.34,637.86 L420.24,636.72 L419.13,635.59 L418.01,634.46 L416.87,633.32 L415.72,632.19 L414.55,631.06 L413.37,629.92 L412.18,628.79 L410.97,627.66 L409.75,626.52 L408.51,625.39 L407.26,624.26 L405.99,623.12 L404.71,621.99 L403.41,620.86 L402.09,619.72 L400.76,618.59 L399.41,617.46 L398.04,616.32 L396.66,615.19 L395.26,614.06 L393.84,612.92 L392.4,611.79 L390.94,610.66 L389.46,609.52 L387.97,608.39 L386.45,607.26 L384.91,606.12 L383.35,604.99 L381.77,603.86 L380.17,602.73 L378.54,601.59 L376.9,600.46 L375.23,599.33 L373.53,598.19 L371.81,597.06 L370.07,595.93 L368.3,594.79 L366.51,593.66 L364.68,592.53 L362.84,591.39 L360.96,590.26 L359.06,589.13 L357.12,587.99 L355.16,586.86 L353.17,585.73 L351.14,584.59 L349.08,583.46 L347,582.33 L344.87,581.19 L342.72,580.06 L340.53,578.93 L338.3,577.79 L336.04,576.66 L333.74,575.53 L331.4,574.39 L329.02,573.26 L326.6,572.13 L324.14,570.99 L321.63,569.86 L319.08,568.73 L316.49,567.59 L313.85,566.46 L311.17,565.33 L308.43,564.19 L305.65,563.06 L302.81,561.93 L299.92,560.79 L296.98,559.66 L293.98,558.53 L290.92,557.39 L287.81,556.26 L284.63,555.13 L281.39,554 L278.09,552.86 L274.72,551.73 L271.28,550.6 L267.77,549.46 L264.19,548.33 L260.53,547.2 L256.8,546.06 L252.99,544.93 L249.09,543.8 L245.11,542.66 L241.04,541.53 L236.88,540.4 L232.62,539.26 L228.27,538.13 L223.82,537 L219.26,535.86 L214.59,534.73 L209.82,533.6 L204.93,532.46 L199.91,531.33 L194.77,530.2 L189.51,529.06 L184.11,527.93 L178.57,526.8 L172.88,525.66 L167.04,524.53 L161.05,523.4 L154.89,522.26 L148.57,521.13 L142.06,520 L135.38,518.86 L128.5,517.73 L121.41,516.6 L114.12,515.46 L108.3,514.58" fill="none" stroke="#2ea352" stroke-width="2.7" stroke-linejoin="round"/>
<path d="M537.47,942.7 L537.37,941.57 L537.28,940.43 L537.18,939.3 L537.08,938.17 L536.99,937.03 L536.89,935.9 L536.8,934.77 L536.7,933.63 L536.6,932.5 L536.51,931.37 L536.41,930.23 L536.31,929.1 L536.21,927.97 L536.12,926.83 L536.02,925.7 L535.92,924.57 L535.82,923.43 L535.72,922.3 L535.62,921.17 L535.52,920.04 L535.42,918.9 L535.32,917.77 L535.22,916.64 L535.12,915.5 L535.02,914.37 L534.92,913.24 L534.82,912.1 L534.72,910.97 L534.62,909.84 L534.51,908.7 L534.41,907.57 L534.31,906.44 L534.21,905.3 L534.1,904.17 L534,903.04 L533.9,901.9 L533.79,900.77 L533.69,899.64 L533.58,898.5 L533.48,897.37 L533.37,896.24 L533.27,895.1 L533.16,893.97 L533.06,892.84 L532.95,891.7 L532.84,890.57 L532.74,889.44 L532.63,888.3 L532.52,887.17 L532.42,886.04 L532.31,884.9 L532.2,883.77 L532.09,882.64 L531.98,881.5 L531.87,880.37 L531.76,879.24 L531.65,878.1 L531.55,876.97 L531.43,875.84 L531.32,874.71 L531.21,873.57 L531.1,872.44 L530.99,871.31 L530.88,870.17 L530.77,869.04 L530.66,867.91 L530.54,866.77 L530.43,865.64 L530.32,864.51 L530.2,863.37 L530.09,862.24 L529.97,861.11 L529.86,859.97 L529.75,858.84 L529.63,857.71 L529.51,856.57 L529.4,855.44 L529.28,854.31 L529.17,853.17 L529.05,852.04 L528.93,850.91 L528.82,849.77 L528.7,848.64 L528.58,847.51 L528.46,846.37 L528.34,845.24 L528.22,844.11 L528.1,842.97 L527.98,841.84 L527.86,840.71 L527.74,839.57 L527.62,838.44 L527.5,837.31 L527.38,836.17 L527.26,835.04 L527.14,833.91 L527.02,832.77 L526.89,831.64 L526.77,830.51 L526.65,829.38 L526.52,828.24 L526.4,827.11 L526.27,825.98 L526.15,824.84 L526.02,823.71 L525.9,822.58 L525.77,821.44 L525.65,820.31 L525.52,819.18 L525.39,818.04 L525.26,816.91 L525.14,815.78 L525.01,814.64 L524.88,813.51 L524.75,812.38 L524.62,811.24 L524.49,810.11 L524.36,808.98 L524.23,807.84 L524.1,806.71 L523.97,805.58 L523.84,804.44 L523.71,803.31 L523.57,802.18 L523.44,801.04 L523.31,799.91 L523.17,798.78 L523.04,797.64 L522.9,796.51 L522.77,795.38 L522.63,794.24 L522.5,793.11 L522.36,791.98 L522.23,790.84 L522.09,789.71 L521.95,788.58 L521.82,787.44 L521.68,786.31 L521.54,785.18 L521.4,784.05 L521.26,782.91 L521.12,781.78 L520.98,780.65 L520.84,779.51 L520.7,778.38 L520.56,777.25 L520.42,776.11 L520.27,774.98 L520.13,773.85 L519.99,772.71 L519.84,771.58 L519.7,770.45 L519.56,769.31 L519.41,768.18 L519.27,767.05 L519.12,765.91 L518.97,764.78 L518.83,763.65 L518.68,762.51 L518.53,761.38 L518.38,760.25 L518.23,759.11 L518.09,757.98 L517.94,756.85 L517.79,755.71 L517.64,754.58 L517.48,753.45 L517.33,752.31 L517.18,751.18 L517.03,750.05 L516.88,748.91 L516.72,747.78 L516.57,746.65 L516.41,745.51 L516.26,744.38 L516.1,743.25 L515.95,742.11 L515.79,740.98 L515.63,739.85 L515.48,738.72 L515.32,737.58 L515.16,736.45 L515,735.32 L514.84,734.18 L514.68,733.05 L514.52,731.92 L514.36,730.78 L514.2,729.65 L514.04,728.52 L513.88,727.38 L513.71,726.25 L513.55,725.12 L513.38,723.98 L513.22,722.85 L513.05,721.72 L512.89,720.58 L512.72,719.45 L512.56,718.32 L512.39,717.18 L512.22,716.05 L512.05,714.92 L511.88,713.78 L511.71,712.65 L511.54,711.52 L511.37,710.38 L511.2,709.25 L511.03,708.12 L510.86,706.98 L510.68,705.85 L510.51,704.72 L510.33,703.58 L510.16,702.45 L509.98,701.32 L509.81,700.18 L509.63,699.05 L509.45,697.92 L509.28,696.78 L509.1,695.65 L508.92,694.52 L508.74,693.38 L508.56,692.25 L508.38,691.12 L508.19,689.99 L508.01,688.85 L507.83,687.72 L507.65,686.59 L507.46,685.45 L507.28,684.32 L507.09,683.19 L506.91,682.05 L506.72,680.92 L506.53,679.79 L506.34,678.65 L506.15,677.52 L505.96,676.39 L505.77,675.25 L505.58,674.12 L505.39,672.99 L505.2,671.85 L505.01,670.72 L504.81,669.59 L504.62,668.45 L504.42,667.32 L504.23,666.19 L504.03,665.05 L503.84,663.92 L503.64,662.79 L503.44,661.65 L503.24,660.52 L503.04,659.39 L502.84,658.25 L502.64,657.12 L502.44,655.99 L502.23,654.85 L502.03,653.72 L501.83,652.59 L501.62,651.45 L501.41,650.32 L501.21,649.19 L501,648.06 L500.79,646.92 L500.58,645.79 L500.37,644.66 L500.16,643.52 L499.95,642.39 L499.74,641.26 L499.53,640.12 L499.31,638.99 L499.1,637.86 L498.88,636.72 L498.67,635.59 L498.45,634.46 L498.23,633.32 L498.01,632.19 L497.79,631.06 L497.57,629.92 L497.35,628.79 L497.13,627.66 L496.91,626.52 L496.68,625.39 L496.46,624.26 L496.23,623.12 L496.01,621.99 L495.78,620.86 L495.55,619.72 L495.32,618.59 L495.09,617.46 L494.86,616.32 L494.63,615.19 L494.4,614.06 L494.17,612.92 L493.93,611.79 L493.7,610.66 L493.46,609.52 L493.22,608.39 L492.99,607.26 L492.75,606.12 L492.51,604.99 L492.27,603.86 L492.02,602.73 L491.78,601.59 L491.54,600.46 L491.29,599.33 L491.05,598.19 L490.8,597.06 L490.55,595.93 L490.3,594.79 L490.05,593.66 L489.8,592.53 L489.55,591.39 L489.3,590.26 L489.04,589.13 L488.79,587.99 L488.53,586.86 L488.28,585.73 L488.02,584.59 L487.76,583.46 L487.5,582.33 L487.24,581.19 L486.98,580.06 L486.71,578.93 L486.45,577.79 L486.18,576.66 L485.91,575.53 L485.65,574.39 L485.38,573.26 L485.11,572.13 L484.84,570.99 L484.56,569.86 L484.29,568.73 L484.01,567.59 L483.74,566.46 L483.46,565.33 L483.18,564.19 L482.9,563.06 L482.62,561.93 L482.34,560.79 L482.06,559.66 L481.77,558.53 L481.49,557.39 L481.2,556.26 L480.91,555.13 L480.62,554 L480.33,552.86 L480.04,551.73 L479.75,550.6 L479.45,549.46 L479.16,548.33 L478.86,547.2 L478.56,546.06 L478.26,544.93 L477.96,543.8 L477.66,542.66 L477.35,541.53 L477.05,540.4 L476.74,539.26 L476.43,538.13 L476.12,537 L475.81,535.86 L475.5,534.73 L475.19,533.6 L474.87,532.46 L474.55,531.33 L474.24,530.2 L473.92,529.06 L473.6,527.93 L473.27,526.8 L472.95,525.66 L472.62,524.53 L472.3,523.4 L471.97,522.26 L471.64,521.13 L471.31,520 L470.97,518.86 L470.64,517.73 L470.3,516.6 L469.97,515.46 L469.63,514.33 L469.29,513.2 L468.94,512.07 L468.6,510.93 L468.25,509.8 L467.91,508.67 L467.56,507.53 L467.2,506.4 L466.85,505.27 L466.5,504.13 L466.14,503 L465.78,501.87 L465.42,500.73 L465.06,499.6 L464.7,498.47 L464.34,497.33 L463.97,496.2 L463.6,495.07 L463.23,493.93 L462.86,492.8 L462.48,491.67 L462.11,490.53 L461.73,489.4" fill="none" stroke="#2ea352" stroke-width="2.7" stroke-dasharray="35 21.6" stroke-linejoin="round"/>
<path d="M461.73,942.7 L461.39,941.57 L461.05,940.43 L460.7,939.3 L460.35,938.17 L460.01,937.03 L459.66,935.9 L459.31,934.77 L458.95,933.63 L458.6,932.5 L458.24,931.37 L457.89,930.23 L457.53,929.1 L457.17,927.97 L456.8,926.83 L456.44,925.7 L456.07,924.57 L455.71,923.43 L455.34,922.3 L454.97,921.17 L454.59,920.04 L454.22,918.9 L453.84,917.77 L453.46,916.64 L453.08,915.5 L452.7,914.37 L452.32,913.24 L451.93,912.1 L451.55,910.97 L451.16,909.84 L450.77,908.7 L450.37,907.57 L449.98,906.44 L449.58,905.3 L449.18,904.17 L448.78,903.04 L448.38,901.9 L447.98,900.77 L447.57,899.64 L447.16,898.5 L446.75,897.37 L446.34,896.24 L445.92,895.1 L445.51,893.97 L445.09,892.84 L444.67,891.7 L444.24,890.57 L443.82,889.44 L443.39,888.3 L442.96,887.17 L442.53,886.04 L442.1,884.9 L441.66,883.77 L441.22,882.64 L440.78,881.5 L440.34,880.37 L439.89,879.24 L439.45,878.1 L439,876.97 L438.54,875.84 L438.09,874.71 L437.63,873.57 L437.17,872.44 L436.71,871.31 L436.25,870.17 L435.78,869.04 L435.31,867.91 L434.84,866.77 L434.37,865.64 L433.89,864.51 L433.41,863.37 L432.93,862.24 L432.45,861.11 L431.96,859.97 L431.47,858.84 L430.98,857.71 L430.49,856.57 L429.99,855.44 L429.49,854.31 L428.99,853.17 L428.48,852.04 L427.97,850.91 L427.46,849.77 L426.95,848.64 L426.43,847.51 L425.91,846.37 L425.39,845.24 L424.86,844.11 L424.33,842.97 L423.8,841.84 L423.27,840.71 L422.73,839.57 L422.19,838.44 L421.65,837.31 L421.1,836.17 L420.55,835.04 L420,833.91 L419.44,832.77 L418.88,831.64 L418.32,830.51 L417.75,829.38 L417.19,828.24 L416.61,827.11 L416.04,825.98 L415.46,824.84 L414.88,823.71 L414.29,822.58 L413.7,821.44 L413.11,820.31 L412.51,819.18 L411.91,818.04 L411.31,816.91 L410.7,815.78 L410.09,814.64 L409.47,813.51 L408.86,812.38 L408.23,811.24 L407.61,810.11 L406.98,808.98 L406.34,807.84 L405.71,806.71 L405.07,805.58 L404.42,804.44 L403.77,803.31 L403.12,802.18 L402.46,801.04 L401.8,799.91 L401.13,798.78 L400.46,797.64 L399.79,796.51 L399.11,795.38 L398.43,794.24 L397.74,793.11 L397.05,791.98 L396.35,790.84 L395.65,789.71 L394.94,788.58 L394.23,787.44 L393.52,786.31 L392.8,785.18 L392.08,784.05 L391.35,782.91 L390.61,781.78 L389.88,780.65 L389.13,779.51 L388.38,778.38 L387.63,777.25 L386.87,776.11 L386.11,774.98 L385.34,773.85 L384.57,772.71 L383.79,771.58 L383,770.45 L382.21,769.31 L381.42,768.18 L380.62,767.05 L379.81,765.91 L379,764.78 L378.18,763.65 L377.36,762.51 L376.53,761.38 L375.69,760.25 L374.85,759.11 L374.01,757.98 L373.15,756.85 L372.29,755.71 L371.43,754.58 L370.56,753.45 L369.68,752.31 L368.79,751.18 L367.9,750.05 L367.01,748.91 L366.1,747.78 L365.19,746.65 L364.28,745.51 L363.35,744.38 L362.42,743.25 L361.48,742.11 L360.54,740.98 L359.59,739.85 L358.63,738.72 L357.66,737.58 L356.69,736.45 L355.71,735.32 L354.72,734.18 L353.72,733.05 L352.72,731.92 L351.71,730.78 L350.69,729.65 L349.66,728.52 L348.62,727.38 L347.58,726.25 L346.53,725.12 L345.47,723.98 L344.4,722.85 L343.32,721.72 L342.23,720.58 L341.14,719.45 L340.03,718.32 L338.92,717.18 L337.8,716.05 L336.67,714.92 L335.53,713.78 L334.38,712.65 L333.22,711.52 L332.05,710.38 L330.87,709.25 L329.68,708.12 L328.48,706.98 L327.27,705.85 L326.05,704.72 L324.82,703.58 L323.58,702.45 L322.33,701.32 L321.07,700.18 L319.8,699.05 L318.51,697.92 L317.22,696.78 L315.91,695.65 L314.59,694.52 L313.26,693.38 L311.92,692.25 L310.56,691.12 L309.2,689.99 L307.82,688.85 L306.43,687.72 L305.02,686.59 L303.6,685.45 L302.17,684.32 L300.73,683.19 L299.27,682.05 L297.8,680.92 L296.32,679.79 L294.82,678.65 L293.31,677.52 L291.78,676.39 L290.24,675.25 L288.68,674.12 L287.11,672.99 L285.52,671.85 L283.92,670.72 L282.3,669.59 L280.66,668.45 L279.01,667.32 L277.35,666.19 L275.66,665.05 L273.96,663.92 L272.24,662.79 L270.51,661.65 L268.75,660.52 L266.98,659.39 L265.19,658.25 L263.38,657.12 L261.56,655.99 L259.71,654.85 L257.85,653.72 L255.96,652.59 L254.05,651.45 L252.13,650.32 L250.18,649.19 L248.21,648.06 L246.22,646.92 L244.21,645.79 L242.18,644.66 L240.12,643.52 L238.04,642.39 L235.94,641.26 L233.81,640.12 L231.66,638.99 L229.49,637.86 L227.29,636.72 L225.06,635.59 L222.81,634.46 L220.54,633.32 L218.23,632.19 L215.9,631.06 L213.54,629.92 L211.16,628.79 L208.74,627.66 L206.3,626.52 L203.82,625.39 L201.32,624.26 L198.78,623.12 L196.21,621.99 L193.62,620.86 L190.98,619.72 L188.32,618.59 L185.62,617.46 L182.89,616.32 L180.12,615.19 L177.32,614.06 L174.47,612.92 L171.6,611.79 L168.68,610.66 L165.73,609.52 L162.73,608.39 L159.7,607.26 L156.62,606.12 L153.5,604.99 L150.34,603.86 L147.14,602.73 L143.89,601.59 L140.59,600.46 L137.25,599.33 L133.86,598.19 L130.43,597.06 L126.94,595.93 L123.4,594.79 L119.81,593.66 L116.17,592.53 L112.47,591.39 L108.72,590.26 L108.3,590.13" fill="none" stroke="#1689b3" stroke-width="2.7" stroke-linejoin="round"/>
<path d="M461.73,942.7 L461.54,941.57 L461.35,940.43 L461.16,939.3 L460.97,938.17 L460.78,937.03 L460.59,935.9 L460.39,934.77 L460.2,933.63 L460.01,932.5 L459.81,931.37 L459.62,930.23 L459.42,929.1 L459.23,927.97 L459.03,926.83 L458.84,925.7 L458.64,924.57 L458.44,923.43 L458.24,922.3 L458.05,921.17 L457.85,920.04 L457.65,918.9 L457.45,917.77 L457.25,916.64 L457.05,915.5 L456.84,914.37 L456.64,913.24 L456.44,912.1 L456.24,910.97 L456.03,909.84 L455.83,908.7 L455.62,907.57 L455.42,906.44 L455.21,905.3 L455.01,904.17 L454.8,903.04 L454.59,901.9 L454.38,900.77 L454.18,899.64 L453.97,898.5 L453.76,897.37 L453.55,896.24 L453.34,895.1 L453.13,893.97 L452.91,892.84 L452.7,891.7 L452.49,890.57 L452.28,889.44 L452.06,888.3 L451.85,887.17 L451.63,886.04 L451.42,884.9 L451.2,883.77 L450.98,882.64 L450.77,881.5 L450.55,880.37 L450.33,879.24 L450.11,878.1 L449.89,876.97 L449.67,875.84 L449.45,874.71 L449.23,873.57 L449,872.44 L448.78,871.31 L448.56,870.17 L448.33,869.04 L448.11,867.91 L447.88,866.77 L447.66,865.64 L447.43,864.51 L447.21,863.37 L446.98,862.24 L446.75,861.11 L446.52,859.97 L446.29,858.84 L446.06,857.71 L445.83,856.57 L445.6,855.44 L445.37,854.31 L445.13,853.17 L444.9,852.04 L444.67,850.91 L444.43,849.77 L444.2,848.64 L443.96,847.51 L443.72,846.37 L443.49,845.24 L443.25,844.11 L443.01,842.97 L442.77,841.84 L442.53,840.71 L442.29,839.57 L442.05,838.44 L441.81,837.31 L441.56,836.17 L441.32,835.04 L441.08,833.91 L440.83,832.77 L440.58,831.64 L440.34,830.51 L440.09,829.38 L439.84,828.24 L439.6,827.11 L439.35,825.98 L439.1,824.84 L438.85,823.71 L438.59,822.58 L438.34,821.44 L438.09,820.31 L437.84,819.18 L437.58,818.04 L437.33,816.91 L437.07,815.78 L436.82,814.64 L436.56,813.51 L436.3,812.38 L436.04,811.24 L435.78,810.11 L435.52,808.98 L435.26,807.84 L435,806.71 L434.74,805.58 L434.47,804.44 L434.21,803.31 L433.95,802.18 L433.68,801.04 L433.41,799.91 L433.15,798.78 L432.88,797.64 L432.61,796.51 L432.34,795.38 L432.07,794.24 L431.8,793.11 L431.53,791.98 L431.25,790.84 L430.98,789.71 L430.71,788.58 L430.43,787.44 L430.15,786.31 L429.88,785.18 L429.6,784.05 L429.32,782.91 L429.04,781.78 L428.76,780.65 L428.48,779.51 L428.2,778.38 L427.92,777.25 L427.63,776.11 L427.35,774.98 L427.06,773.85 L426.78,772.71 L426.49,771.58 L426.2,770.45 L425.91,769.31 L425.62,768.18 L425.33,767.05 L425.04,765.91 L424.75,764.78 L424.45,763.65 L424.16,762.51 L423.86,761.38 L423.57,760.25 L423.27,759.11 L422.97,757.98 L422.67,756.85 L422.37,755.71 L422.07,754.58 L421.77,753.45 L421.47,752.31 L421.16,751.18 L420.86,750.05 L420.55,748.91 L420.24,747.78 L419.94,746.65 L419.63,745.51 L419.32,744.38 L419.01,743.25 L418.7,742.11 L418.38,740.98 L418.07,739.85 L417.75,738.72 L417.44,737.58 L417.12,736.45 L416.8,735.32 L416.49,734.18 L416.17,733.05 L415.84,731.92 L415.52,730.78 L415.2,729.65 L414.88,728.52 L414.55,727.38 L414.22,726.25 L413.9,725.12 L413.57,723.98 L413.24,722.85 L412.91,721.72 L412.58,720.58 L412.24,719.45 L411.91,718.32 L411.58,717.18 L411.24,716.05 L410.9,714.92 L410.56,713.78 L410.23,712.65 L409.88,711.52 L409.54,710.38 L409.2,709.25 L408.86,708.12 L408.51,706.98 L408.16,705.85 L407.82,704.72 L407.47,703.58 L407.12,702.45 L406.77,701.32 L406.42,700.18 L406.06,699.05 L405.71,697.92 L405.35,696.78 L404.99,695.65 L404.64,694.52 L404.28,693.38 L403.92,692.25 L403.55,691.12 L403.19,689.99 L402.82,688.85 L402.46,687.72 L402.09,686.59 L401.72,685.45 L401.35,684.32 L400.98,683.19 L400.61,682.05 L400.24,680.92 L399.86,679.79 L399.49,678.65 L399.11,677.52 L398.73,676.39 L398.35,675.25 L397.97,674.12 L397.58,672.99 L397.2,671.85 L396.81,670.72 L396.43,669.59 L396.04,668.45 L395.65,667.32 L395.26,666.19 L394.86,665.05 L394.47,663.92 L394.08,662.79 L393.68,661.65 L393.28,660.52 L392.88,659.39 L392.48,658.25 L392.08,657.12 L391.67,655.99 L391.27,654.85 L390.86,653.72 L390.45,652.59 L390.04,651.45 L389.63,650.32 L389.21,649.19 L388.8,648.06 L388.38,646.92 L387.97,645.79 L387.55,644.66 L387.13,643.52 L386.7,642.39 L386.28,641.26 L385.85,640.12 L385.43,638.99 L385,637.86 L384.57,636.72 L384.13,635.59 L383.7,634.46 L383.26,633.32 L382.83,632.19 L382.39,631.06 L381.95,629.92 L381.51,628.79 L381.06,627.66 L380.62,626.52 L380.17,625.39 L379.72,624.26 L379.27,623.12 L378.82,621.99 L378.36,620.86 L377.91,619.72 L377.45,618.59 L376.99,617.46 L376.53,616.32 L376.06,615.19 L375.6,614.06 L375.13,612.92 L374.66,611.79 L374.19,610.66 L373.72,609.52 L373.25,608.39 L372.77,607.26 L372.29,606.12 L371.81,604.99 L371.33,603.86 L370.85,602.73 L370.36,601.59 L369.87,600.46 L369.39,599.33 L368.89,598.19 L368.4,597.06 L367.9,595.93 L367.41,594.79 L366.91,593.66 L366.41,592.53 L365.9,591.39 L365.4,590.26 L364.89,589.13 L364.38,587.99 L363.87,586.86 L363.35,585.73 L362.84,584.59 L362.32,583.46 L361.8,582.33 L361.27,581.19 L360.75,580.06 L360.22,578.93 L359.69,577.79 L359.16,576.66 L358.63,575.53 L358.09,574.39 L357.55,573.26 L357.01,572.13 L356.47,570.99 L355.93,569.86 L355.38,568.73 L354.83,567.59 L354.28,566.46 L353.72,565.33 L353.17,564.19 L352.61,563.06 L352.04,561.93 L351.48,560.79 L350.91,559.66 L350.35,558.53 L349.77,557.39 L349.2,556.26 L348.62,555.13 L348.04,554 L347.46,552.86 L346.88,551.73 L346.29,550.6 L345.7,549.46 L345.11,548.33 L344.52,547.2 L343.92,546.06 L343.32,544.93 L342.72,543.8 L342.11,542.66 L341.5,541.53 L340.89,540.4 L340.28,539.26 L339.67,538.13 L339.05,537 L338.42,535.86 L337.8,534.73 L337.17,533.6 L336.54,532.46 L335.91,531.33 L335.27,530.2 L334.63,529.06 L333.99,527.93 L333.35,526.8 L332.7,525.66 L332.05,524.53 L331.4,523.4 L330.74,522.26 L330.08,521.13 L329.42,520 L328.75,518.86 L328.08,517.73 L327.41,516.6 L326.73,515.46 L326.05,514.33 L325.37,513.2 L324.69,512.07 L324,510.93 L323.31,509.8 L322.61,508.67 L321.91,507.53 L321.21,506.4 L320.5,505.27 L319.8,504.13 L319.08,503 L318.37,501.87 L317.65,500.73 L316.93,499.6 L316.2,498.47 L315.47,497.33 L314.74,496.2 L314,495.07 L313.26,493.93 L312.52,492.8 L311.77,491.67 L311.02,490.53 L310.26,489.4" fill="none" stroke="#1689b3" stroke-width="2.7" stroke-dasharray="35 21.6" stroke-linejoin="round"/>
<path d="M335.5,942.7 L334.88,941.57 L334.25,940.43 L333.62,939.3 L332.98,938.17 L332.35,937.03 L331.7,935.9 L331.06,934.77 L330.41,933.63 L329.77,932.5 L329.11,931.37 L328.46,930.23 L327.8,929.1 L327.14,927.97 L326.47,926.83 L325.81,925.7 L325.13,924.57 L324.46,923.43 L323.78,922.3 L323.1,921.17 L322.42,920.04 L321.73,918.9 L321.04,917.77 L320.35,916.64 L319.65,915.5 L318.95,914.37 L318.25,913.24 L317.54,912.1 L316.83,910.97 L316.12,909.84 L315.4,908.7 L314.68,907.57 L313.96,906.44 L313.23,905.3 L312.5,904.17 L311.77,903.04 L311.03,901.9 L310.29,900.77 L309.54,899.64 L308.79,898.5 L308.04,897.37 L307.28,896.24 L306.52,895.1 L305.76,893.97 L304.99,892.84 L304.22,891.7 L303.45,890.57 L302.67,889.44 L301.88,888.3 L301.1,887.17 L300.3,886.04 L299.51,884.9 L298.71,883.77 L297.91,882.64 L297.1,881.5 L296.29,880.37 L295.47,879.24 L294.65,878.1 L293.83,876.97 L293,875.84 L292.17,874.71 L291.33,873.57 L290.49,872.44 L289.64,871.31 L288.79,870.17 L287.93,869.04 L287.08,867.91 L286.21,866.77 L285.34,865.64 L284.47,864.51 L283.59,863.37 L282.71,862.24 L281.82,861.11 L280.93,859.97 L280.03,858.84 L279.13,857.71 L278.22,856.57 L277.31,855.44 L276.4,854.31 L275.47,853.17 L274.55,852.04 L273.62,850.91 L272.68,849.77 L271.74,848.64 L270.79,847.51 L269.84,846.37 L268.88,845.24 L267.92,844.11 L266.95,842.97 L265.97,841.84 L264.99,840.71 L264.01,839.57 L263.02,838.44 L262.02,837.31 L261.02,836.17 L260.01,835.04 L259,833.91 L257.98,832.77 L256.95,831.64 L255.92,830.51 L254.88,829.38 L253.84,828.24 L252.79,827.11 L251.74,825.98 L250.67,824.84 L249.61,823.71 L248.53,822.58 L247.45,821.44 L246.36,820.31 L245.27,819.18 L244.17,818.04 L243.06,816.91 L241.95,815.78 L240.83,814.64 L239.7,813.51 L238.57,812.38 L237.43,811.24 L236.28,810.11 L235.13,808.98 L233.96,807.84 L232.8,806.71 L231.62,805.58 L230.44,804.44 L229.25,803.31 L228.05,802.18 L226.84,801.04 L225.63,799.91 L224.41,798.78 L223.18,797.64 L221.94,796.51 L220.7,795.38 L219.45,794.24 L218.19,793.11 L216.92,791.98 L215.64,790.84 L214.36,789.71 L213.06,788.58 L211.76,787.44 L210.45,786.31 L209.13,785.18 L207.81,784.05 L206.47,782.91 L205.13,781.78 L203.77,780.65 L202.41,779.51 L201.04,778.38 L199.66,777.25 L198.27,776.11 L196.87,774.98 L195.46,773.85 L194.04,772.71 L192.61,771.58 L191.17,770.45 L189.72,769.31 L188.27,768.18 L186.8,767.05 L185.32,765.91 L183.83,764.78 L182.33,763.65 L180.82,762.51 L179.3,761.38 L177.77,760.25 L176.23,759.11 L174.68,757.98 L173.11,756.85 L171.54,755.71 L169.95,754.58 L168.35,753.45 L166.75,752.31 L165.12,751.18 L163.49,750.05 L161.85,748.91 L160.19,747.78 L158.52,746.65 L156.84,745.51 L155.15,744.38 L153.44,743.25 L151.72,742.11 L149.99,740.98 L148.24,739.85 L146.49,738.72 L144.71,737.58 L142.93,736.45 L141.13,735.32 L139.32,734.18 L137.49,733.05 L135.65,731.92 L133.8,730.78 L131.93,729.65 L130.04,728.52 L128.14,727.38 L126.23,726.25 L124.3,725.12 L122.36,723.98 L120.4,722.85 L118.42,721.72 L116.43,720.58 L114.42,719.45 L112.4,718.32 L110.36,717.18 L108.3,716.05 L108.3,716.05" fill="none" stroke="#6f968c" stroke-width="2.7" stroke-linejoin="round"/>
<path d="M335.5,942.7 L335.16,941.57 L334.81,940.43 L334.46,939.3 L334.11,938.17 L333.76,937.03 L333.41,935.9 L333.05,934.77 L332.7,933.63 L332.35,932.5 L331.99,931.37 L331.63,930.23 L331.28,929.1 L330.92,927.97 L330.56,926.83 L330.2,925.7 L329.84,924.57 L329.48,923.43 L329.11,922.3 L328.75,921.17 L328.38,920.04 L328.02,918.9 L327.65,917.77 L327.28,916.64 L326.92,915.5 L326.55,914.37 L326.18,913.24 L325.81,912.1 L325.43,910.97 L325.06,909.84 L324.69,908.7 L324.31,907.57 L323.93,906.44 L323.56,905.3 L323.18,904.17 L322.8,903.04 L322.42,901.9 L322.04,900.77 L321.66,899.64 L321.27,898.5 L320.89,897.37 L320.5,896.24 L320.12,895.1 L319.73,893.97 L319.34,892.84 L318.95,891.7 L318.56,890.57 L318.17,889.44 L317.78,888.3 L317.39,887.17 L316.99,886.04 L316.6,884.9 L316.2,883.77 L315.8,882.64 L315.4,881.5 L315,880.37 L314.6,879.24 L314.2,878.1 L313.8,876.97 L313.39,875.84 L312.99,874.71 L312.58,873.57 L312.18,872.44 L311.77,871.31 L311.36,870.17 L310.95,869.04 L310.54,867.91 L310.12,866.77 L309.71,865.64 L309.29,864.51 L308.88,863.37 L308.46,862.24 L308.04,861.11 L307.62,859.97 L307.2,858.84 L306.78,857.71 L306.35,856.57 L305.93,855.44 L305.5,854.31 L305.08,853.17 L304.65,852.04 L304.22,850.91 L303.79,849.77 L303.36,848.64 L302.93,847.51 L302.49,846.37 L302.06,845.24 L301.62,844.11 L301.18,842.97 L300.74,841.84 L300.3,840.71 L299.86,839.57 L299.42,838.44 L298.98,837.31 L298.53,836.17 L298.09,835.04 L297.64,833.91 L297.19,832.77 L296.74,831.64 L296.29,830.51 L295.83,829.38 L295.38,828.24 L294.92,827.11 L294.47,825.98 L294.01,824.84 L293.55,823.71 L293.09,822.58 L292.63,821.44 L292.17,820.31 L291.7,819.18 L291.23,818.04 L290.77,816.91 L290.3,815.78 L289.83,814.64 L289.36,813.51 L288.88,812.38 L288.41,811.24 L287.93,810.11 L287.46,808.98 L286.98,807.84 L286.5,806.71 L286.02,805.58 L285.54,804.44 L285.05,803.31 L284.57,802.18 L284.08,801.04 L283.59,799.91 L283.1,798.78 L282.61,797.64 L282.12,796.51 L281.62,795.38 L281.13,794.24 L280.63,793.11 L280.13,791.98 L279.63,790.84 L279.13,789.71 L278.63,788.58 L278.12,787.44 L277.62,786.31 L277.11,785.18 L276.6,784.05 L276.09,782.91 L275.58,781.78 L275.06,780.65 L274.55,779.51 L274.03,778.38 L273.51,777.25 L272.99,776.11 L272.47,774.98 L271.95,773.85 L271.42,772.71 L270.89,771.58 L270.37,770.45 L269.84,769.31 L269.31,768.18 L268.77,767.05 L268.24,765.91 L267.7,764.78 L267.16,763.65 L266.62,762.51 L266.08,761.38 L265.54,760.25 L264.99,759.11 L264.45,757.98 L263.9,756.85 L263.35,755.71 L262.8,754.58 L262.24,753.45 L261.69,752.31 L261.13,751.18 L260.57,750.05 L260.01,748.91 L259.45,747.78 L258.88,746.65 L258.32,745.51 L257.75,744.38 L257.18,743.25 L256.61,742.11 L256.04,740.98 L255.46,739.85 L254.88,738.72 L254.31,737.58 L253.72,736.45 L253.14,735.32 L252.56,734.18 L251.97,733.05 L251.38,731.92 L250.79,730.78 L250.2,729.65 L249.61,728.52 L249.01,727.38 L248.41,726.25 L247.81,725.12 L247.21,723.98 L246.61,722.85 L246,721.72 L245.39,720.58 L244.78,719.45 L244.17,718.32 L243.56,717.18 L242.94,716.05 L242.32,714.92 L241.7,713.78 L241.08,712.65 L240.46,711.52 L239.83,710.38 L239.2,709.25 L238.57,708.12 L237.94,706.98 L237.3,705.85 L236.66,704.72 L236.03,703.58 L235.38,702.45 L234.74,701.32 L234.09,700.18 L233.45,699.05 L232.8,697.92 L232.14,696.78 L231.49,695.65 L230.83,694.52 L230.17,693.38 L229.51,692.25 L228.85,691.12 L228.18,689.99 L227.51,688.85 L226.84,687.72 L226.17,686.59 L225.49,685.45 L224.82,684.32 L224.14,683.19 L223.45,682.05 L222.77,680.92 L222.08,679.79 L221.39,678.65 L220.7,677.52 L220,676.39 L219.31,675.25 L218.61,674.12 L217.9,672.99 L217.2,671.85 L216.49,670.72 L215.78,669.59 L215.07,668.45 L214.36,667.32 L213.64,666.19 L212.92,665.05 L212.2,663.92 L211.47,662.79 L210.74,661.65 L210.01,660.52 L209.28,659.39 L208.54,658.25 L207.81,657.12 L207.06,655.99 L206.32,654.85 L205.57,653.72 L204.82,652.59 L204.07,651.45 L203.32,650.32 L202.56,649.19 L201.8,648.06 L201.04,646.92 L200.27,645.79 L199.5,644.66 L198.73,643.52 L197.96,642.39 L197.18,641.26 L196.4,640.12 L195.61,638.99 L194.83,637.86 L194.04,636.72 L193.25,635.59 L192.45,634.46 L191.65,633.32 L190.85,632.19 L190.05,631.06 L189.24,629.92 L188.43,628.79 L187.61,627.66 L186.8,626.52 L185.98,625.39 L185.15,624.26 L184.33,623.12 L183.5,621.99 L182.67,620.86 L181.83,619.72 L180.99,618.59 L180.15,617.46 L179.3,616.32 L178.45,615.19 L177.6,614.06 L176.74,612.92 L175.89,611.79 L175.02,610.66 L174.16,609.52 L173.29,608.39 L172.41,607.26 L171.54,606.12 L170.66,604.99 L169.77,603.86 L168.89,602.73 L168,601.59 L167.1,600.46 L166.21,599.33 L165.3,598.19 L164.4,597.06 L163.49,595.93 L162.58,594.79 L161.66,593.66 L160.74,592.53 L159.82,591.39 L158.89,590.26 L157.96,589.13 L157.03,587.99 L156.09,586.86 L155.15,585.73 L154.2,584.59 L153.25,583.46 L152.3,582.33 L151.34,581.19 L150.38,580.06 L149.41,578.93 L148.44,577.79 L147.46,576.66 L146.49,575.53 L145.5,574.39 L144.52,573.26 L143.53,572.13 L142.53,570.99 L141.53,569.86 L140.53,568.73 L139.52,567.59 L138.51,566.46 L137.49,565.33 L136.47,564.19 L135.45,563.06 L134.42,561.93 L133.38,560.79 L132.34,559.66 L131.3,558.53 L130.25,557.39 L129.2,556.26 L128.14,555.13 L127.08,554 L126.02,552.86 L124.95,551.73 L123.87,550.6 L122.79,549.46 L121.7,548.33 L120.61,547.2 L119.52,546.06 L118.42,544.93 L117.32,543.8 L116.21,542.66 L115.09,541.53 L113.97,540.4 L112.85,539.26 L111.72,538.13 L110.58,537 L109.44,535.86 L108.3,534.73 L108.3,534.73" fill="none" stroke="#6f968c" stroke-width="2.7" stroke-dasharray="35 21.6" stroke-linejoin="round"/>
<rect x="108.3" y="489.4" width="504.9" height="453.3" fill="none" stroke="#404040" stroke-width="1.5" />
<line x1="158.79" y1="942.7" x2="158.79" y2="936.7" stroke="#404040" stroke-width="1.3" />
<line x1="158.79" y1="489.4" x2="158.79" y2="495.4" stroke="#404040" stroke-width="1.3" />
<line x1="108.3" y1="897.37" x2="114.3" y2="897.37" stroke="#404040" stroke-width="1.3" />
<line x1="613.2" y1="897.37" x2="607.2" y2="897.37" stroke="#404040" stroke-width="1.3" />
<line x1="209.28" y1="942.7" x2="209.28" y2="936.7" stroke="#404040" stroke-width="1.3" />
<line x1="209.28" y1="489.4" x2="209.28" y2="495.4" stroke="#404040" stroke-width="1.3" />
<line x1="108.3" y1="852.04" x2="114.3" y2="852.04" stroke="#404040" stroke-width="1.3" />
<line x1="613.2" y1="852.04" x2="607.2" y2="852.04" stroke="#404040" stroke-width="1.3" />
<line x1="259.77" y1="942.7" x2="259.77" y2="936.7" stroke="#404040" stroke-width="1.3" />
<line x1="259.77" y1="489.4" x2="259.77" y2="495.4" stroke="#404040" stroke-width="1.3" />
<line x1="108.3" y1="806.71" x2="114.3" y2="806.71" stroke="#404040" stroke-width="1.3" />
<line x1="613.2" y1="806.71" x2="607.2" y2="806.71" stroke="#404040" stroke-width="1.3" />
<line x1="310.26" y1="942.7" x2="310.26" y2="936.7" stroke="#404040" stroke-width="1.3" />
<line x1="310.26" y1="489.4" x2="310.26" y2="495.4" stroke="#404040" stroke-width="1.3" />
<line x1="108.3" y1="761.38" x2="114.3" y2="761.38" stroke="#404040" stroke-width="1.3" />
<line x1="613.2" y1="761.38" x2="607.2" y2="761.38" stroke="#404040" stroke-width="1.3" />
<line x1="360.75" y1="942.7" x2="360.75" y2="936.7" stroke="#404040" stroke-width="1.3" />
<line x1="360.75" y1="489.4" x2="360.75" y2="495.4" stroke="#404040" stroke-width="1.3" />
<line x1="108.3" y1="716.05" x2="114.3" y2="716.05" stroke="#404040" stroke-width="1.3" />
<line x1="613.2" y1="716.05" x2="607.2" y2="716.05" stroke="#404040" stroke-width="1.3" />
<line x1="411.24" y1="942.7" x2="411.24" y2="936.7" stroke="#404040" stroke-width="1.3" />
<line x1="411.24" y1="489.4" x2="411.24" y2="495.4" stroke="#404040" stroke-width="1.3" />
<line x1="108.3" y1="670.72" x2="114.3" y2="670.72" stroke="#404040" stroke-width="1.3" />
<line x1="613.2" y1="670.72" x2="607.2" y2="670.72" stroke="#404040" stroke-width="1.3" />
<line x1="461.73" y1="942.7" x2="461.73" y2="936.7" stroke="#404040" stroke-width="1.3" />
<line x1="461.73" y1="489.4" x2="461.73" y2="495.4" stroke="#404040" stroke-width="1.3" />
<line x1="108.3" y1="625.39" x2="114.3" y2="625.39" stroke="#404040" stroke-width="1.3" />
<line x1="613.2" y1="625.39" x2="607.2" y2="625.39" stroke="#404040" stroke-width="1.3" />
<line x1="512.22" y1="942.7" x2="512.22" y2="936.7" stroke="#404040" stroke-width="1.3" />
<line x1="512.22" y1="489.4" x2="512.22" y2="495.4" stroke="#404040" stroke-width="1.3" />
<line x1="108.3" y1="580.06" x2="114.3" y2="580.06" stroke="#404040" stroke-width="1.3" />
<line x1="613.2" y1="580.06" x2="607.2" y2="580.06" stroke="#404040" stroke-width="1.3" />
<line x1="562.71" y1="942.7" x2="562.71" y2="936.7" stroke="#404040" stroke-width="1.3" />
<line x1="562.71" y1="489.4" x2="562.71" y2="495.4" stroke="#404040" stroke-width="1.3" />
<line x1="108.3" y1="534.73" x2="114.3" y2="534.73" stroke="#404040" stroke-width="1.3" />
<line x1="613.2" y1="534.73" x2="607.2" y2="534.73" stroke="#404040" stroke-width="1.3" />
<text x="209.28" y="959.6" font-size="17.2" fill="#262626" text-anchor="middle" textLength="25.6" lengthAdjust="spacingAndGlyphs" >0.2</text>
<text x="103.2" y="859.84" font-size="17.2" fill="#262626" text-anchor="end" textLength="25" lengthAdjust="spacingAndGlyphs" >0.2</text>
<text x="310.26" y="959.6" font-size="17.2" fill="#262626" text-anchor="middle" textLength="25.6" lengthAdjust="spacingAndGlyphs" >0.4</text>
<text x="103.2" y="769.18" font-size="17.2" fill="#262626" text-anchor="end" textLength="25" lengthAdjust="spacingAndGlyphs" >0.4</text>
<text x="411.24" y="959.6" font-size="17.2" fill="#262626" text-anchor="middle" textLength="25.6" lengthAdjust="spacingAndGlyphs" >0.6</text>
<text x="103.2" y="678.52" font-size="17.2" fill="#262626" text-anchor="end" textLength="25" lengthAdjust="spacingAndGlyphs" >0.6</text>
<text x="512.22" y="959.6" font-size="17.2" fill="#262626" text-anchor="middle" textLength="25.6" lengthAdjust="spacingAndGlyphs" >0.8</text>
<text x="103.2" y="587.86" font-size="17.2" fill="#262626" text-anchor="end" textLength="25" lengthAdjust="spacingAndGlyphs" >0.8</text>
<text x="96" y="957.5" font-size="16.8" fill="#262626" text-anchor="middle" >0</text>
<text x="101.8" y="497.9" font-size="16.8" fill="#262626" text-anchor="end" >1</text>
<text x="611.8" y="959.8" font-size="16.8" fill="#262626" text-anchor="middle" >1</text>
<text x="117.4" y="513.1" font-size="19.5" font-weight="bold" fill="#000">Mean Ocean <tspan font-weight="normal" font-size="19">δ</tspan><tspan font-size="12" dy="-7.5">15</tspan><tspan dy="7.5">N</tspan></text>
<rect x="481.7" y="488.7" width="131.6" height="45.8" fill="none" stroke="#1a1a1a" stroke-width="1.5" />
<line x1="486.2" y1="501.8" x2="520.5" y2="501.8" stroke="#2b3a12" stroke-width="2.2" />
<line x1="486.2" y1="523.8" x2="494.4" y2="523.8" stroke="#2b3a12" stroke-width="2.2" />
<line x1="507.6" y1="523.8" x2="520.5" y2="523.8" stroke="#2b3a12" stroke-width="2.2" />
<text x="525.4" y="508.4" font-size="16.5" fill="#1a1a1a">ε<tspan font-size="9.5" font-weight="bold" dy="3">N/D</tspan><tspan dy="-3">=</tspan></text>
<text x="565.2" y="509" font-size="16.5" fill="#1a1a1a" text-anchor="start" >2‰</text>
<text x="525.4" y="527.8" font-size="16.5" fill="#1a1a1a">ε<tspan font-size="9.5" font-weight="bold" dy="3">N/D</tspan><tspan dy="-3">=</tspan></text>
<text x="565.4" y="528.4" font-size="16.5" fill="#1a1a1a" text-anchor="start" >10‰</text>
<text transform="translate(485.43,618.59) rotate(39.5)" font-size="16.5" fill="#ff1a1a">δ<tspan font-size="10.9" dy="-8.3">15</tspan><tspan font-size="18.8" dy="8.3">N</tspan><tspan font-size="11.9" dx="-1.5" dy="4.5">mean</tspan><tspan dx="-1.5" dy="-4.5">=0</tspan></text>
<text transform="translate(396.92,674.11) rotate(40)" font-size="16.5" fill="#1d6b34">δ<tspan font-size="10.9" dy="-8.3">15</tspan><tspan font-size="18.8" dy="8.3">N</tspan><tspan font-size="11.9" dx="-1.5" dy="4.5">mean</tspan><tspan dx="-1.5" dy="-4.5">=+2</tspan></text>
<text transform="translate(308.87,737.16) rotate(41.5)" font-size="16.5" fill="#1689b3">δ<tspan font-size="10.9" dy="-8.3">15</tspan><tspan font-size="18.8" dy="8.3">N</tspan><tspan font-size="11.9" dx="-1.5" dy="4.5">mean</tspan><tspan dx="-1.5" dy="-4.5">=+5</tspan></text>
<text transform="translate(206.83,823.7) rotate(43)" font-size="16.5" fill="#4f7169">δ<tspan font-size="10.9" dy="-8.3">15</tspan><tspan font-size="18.8" dy="8.3">N</tspan><tspan font-size="11.9" dx="-1.5" dy="4.5">mean</tspan><tspan dx="-1.5" dy="-4.5">=+10</tspan></text>
<path d="M450.3,522.2 L455.83,534.19 L468.94,535.74 L459.25,544.71 L461.82,557.66 L450.3,551.21 L438.78,557.66 L441.35,544.71 L431.66,535.74 L444.77,534.19Z" fill="#fcb07c" stroke="#f59a56" stroke-width="1.3" stroke-linejoin="miter" />
<text x="398.1" y="529.8" font-size="15.8" font-weight="bold" fill="#f5924a" textLength="44" lengthAdjust="spacingAndGlyphs">OAE2</text>
<path d="M299.4,786.6 L304.54,798.13 L317.09,799.45 L307.71,807.9 L310.33,820.25 L299.4,813.94 L288.47,820.25 L291.09,807.9 L281.71,799.45 L294.26,798.13Z" fill="#8a8a8a" stroke="#b8147a" stroke-width="2.3" stroke-linejoin="miter" fill-opacity="0.92"/>
<text x="249" y="793.2" font-size="15.2" font-weight="bold" fill="#e0168a" textLength="43.6" lengthAdjust="spacingAndGlyphs">PETM</text>
<path d="M299.9,924 L305.04,935.53 L317.59,936.85 L308.21,945.3 L310.83,957.65 L299.9,951.34 L288.97,957.65 L291.59,945.3 L282.21,936.85 L294.76,935.53Z" fill="#d6d6d6" stroke="#f29ac8" stroke-width="1.8" stroke-linejoin="miter" fill-opacity="0.85"/>
<text x="216.6" y="932.8" font-size="17" font-weight="bold" fill="#f58cc6" textLength="76.2" lengthAdjust="spacingAndGlyphs">pre-PETM</text>
<text x="393.9" y="933.7" font-size="16.3" font-weight="bold" fill="#3cc8f2" textLength="59.3" lengthAdjust="spacingAndGlyphs">modern</text>
<g transform="translate(0,0)">
<text transform="translate(63.8,863.5) rotate(-90)" font-size="34" fill="#1a1a1a">f</text>
<text transform="translate(70.2,852) rotate(-90)" font-size="16" font-weight="bold" fill="#1a1a1a" textLength="26" lengthAdjust="spacingAndGlyphs">N/D</text>
<rect x="46.4" y="801.2" width="3.2" height="15.7" fill="#1a1a1a" stroke="none" stroke-width="1" />
<rect x="53.8" y="801.2" width="3.2" height="15.7" fill="#1a1a1a" stroke="none" stroke-width="1" />
<line x1="50.6" y1="589.5" x2="50.6" y2="787.3" stroke="#000" stroke-width="3.4"/>
<text transform="translate(44.6,782.2) rotate(-90)" font-size="18.3" fill="#1a1a1a" textLength="184.2" lengthAdjust="spacingAndGlyphs">NH<tspan font-size="11" dy="3">4</tspan><tspan font-size="11" dy="-10" dx="-6">+</tspan><tspan dy="7">-type ODZ N loss</tspan></text>
<text transform="translate(69.9,799.3) rotate(-90)" font-size="18.5" fill="#1a1a1a" textLength="217.6" lengthAdjust="spacingAndGlyphs">Total water column N loss</text>
</g>
<text x="202.8" y="1001.5" font-size="33.5" fill="#1a1a1a">f</text>
<text x="212.2" y="1008" font-size="16" font-weight="bold" fill="#1a1a1a" textLength="26.9" lengthAdjust="spacingAndGlyphs">sed</text>
<rect x="241" y="984.4" width="15.6" height="3" fill="#1a1a1a" stroke="none" stroke-width="1" />
<rect x="241" y="992" width="15.6" height="3" fill="#1a1a1a" stroke="none" stroke-width="1" />
<line x1="264.8" y1="989.6" x2="463.6" y2="989.6" stroke="#000" stroke-width="3" />
<text x="280.7" y="984.7" font-size="18.5" fill="#1a1a1a" text-anchor="start" textLength="166.3" lengthAdjust="spacingAndGlyphs" >Sedimentary N loss</text>
<text x="314.9" y="1010.1" font-size="18.5" fill="#1a1a1a" text-anchor="start" textLength="96.7" lengthAdjust="spacingAndGlyphs" >Total N loss</text>
<text x="3.6" y="512.6" font-size="41" fill="#000" font-weight="bold" text-anchor="start" >b</text>
<rect x="175" y="1064" width="122.6" height="328" fill="#c0e8f9" stroke="none" stroke-width="1" />
<rect x="297.6" y="1064" width="139.8" height="328" fill="#f8c9e6" stroke="none" stroke-width="1" />
<rect x="437.4" y="1064" width="123.2" height="328" fill="#c0e8f9" stroke="none" stroke-width="1" />
<line x1="297.6" y1="1064" x2="297.6" y2="1392" stroke="#b4b6ea" stroke-width="1" />
<line x1="437.4" y1="1064" x2="437.4" y2="1392" stroke="#c8c0ea" stroke-width="1" />
<line x1="100" y1="1257.9" x2="175" y2="1257.9" stroke="#7a7a7a" stroke-width="1.7" />
<line x1="175" y1="1257.9" x2="297.6" y2="1257.9" stroke="#5c8898" stroke-width="1.7" />
<line x1="297.6" y1="1257.9" x2="437.4" y2="1257.9" stroke="#8a6480" stroke-width="1.7" />
<line x1="437.4" y1="1257.9" x2="560.6" y2="1257.9" stroke="#5c8898" stroke-width="1.7" />
<line x1="560.6" y1="1257.9" x2="610" y2="1257.9" stroke="#7a7a7a" stroke-width="1.7" />
<line x1="104.1" y1="1151.4" x2="116.9" y2="1152" stroke="#7f8548" stroke-width="1.9" />
<line x1="133.7" y1="1151" x2="147.1" y2="1152.7" stroke="#7f8548" stroke-width="1.9" />
<line x1="163.2" y1="1153" x2="176.6" y2="1154.4" stroke="#7f8548" stroke-width="1.9" />
<line x1="192.4" y1="1157.8" x2="205.8" y2="1161.5" stroke="#7f8548" stroke-width="1.9" />
<line x1="217.6" y1="1168.8" x2="229.4" y2="1177.2" stroke="#7f8548" stroke-width="1.9" />
<line x1="239.4" y1="1189" x2="247.8" y2="1200.7" stroke="#7f8548" stroke-width="1.9" />
<line x1="256.2" y1="1213.6" x2="264.6" y2="1226" stroke="#7f8548" stroke-width="1.9" />
<line x1="273" y1="1238.8" x2="284" y2="1249" stroke="#7f8548" stroke-width="1.9" />
<line x1="442.4" y1="1254.6" x2="451.1" y2="1244.4" stroke="#7f8548" stroke-width="1.9" />
<line x1="461.8" y1="1232.1" x2="470" y2="1221.4" stroke="#7f8548" stroke-width="1.9" />
<line x1="479.3" y1="1208.1" x2="487.3" y2="1196.4" stroke="#7f8548" stroke-width="1.9" />
<line x1="495.1" y1="1182.4" x2="504.6" y2="1172.9" stroke="#7f8548" stroke-width="1.9" />
<line x1="520.2" y1="1162.2" x2="533.3" y2="1158.6" stroke="#7f8548" stroke-width="1.9" />
<line x1="549" y1="1156.8" x2="563" y2="1155.4" stroke="#7f8548" stroke-width="1.9" />
<line x1="578.6" y1="1154.8" x2="598.7" y2="1154.3" stroke="#7f8548" stroke-width="1.9" />
<line x1="297.6" y1="1257.2" x2="311.4" y2="1257.2" stroke="#7f8548" stroke-width="2.3" />
<line x1="327" y1="1257.2" x2="340.8" y2="1257.2" stroke="#7f8548" stroke-width="2.3" />
<line x1="356.6" y1="1257.2" x2="370.4" y2="1257.2" stroke="#7f8548" stroke-width="2.3" />
<line x1="386.5" y1="1257.2" x2="400.3" y2="1257.2" stroke="#7f8548" stroke-width="2.3" />
<line x1="416" y1="1257.2" x2="429.8" y2="1257.2" stroke="#7f8548" stroke-width="2.3" />
<path d="M100,1258.8 L304,1258.8" fill="none" stroke="#c02a3c" stroke-width="2.1" stroke-dasharray="12.4 13.1 3.7 8 3.7 8.7" stroke-dashoffset="18.6"/>
<path d="M307.9,1255.1 L311,1253" fill="none" stroke="#c02a3c" stroke-width="2.1"/>
<path d="M313.7,1248.8 L322.6,1238.3" fill="none" stroke="#c02a3c" stroke-width="2.1"/>
<path d="M326.8,1230.9 L328.4,1228.3" fill="none" stroke="#c02a3c" stroke-width="2.1"/>
<path d="M331.5,1219.9 L333.4,1216.7" fill="none" stroke="#c02a3c" stroke-width="2.1"/>
<path d="M336.3,1209.4 L338.9,1203.2 L341.5,1197.3" fill="none" stroke="#c02a3c" stroke-width="2.1"/>
<path d="M343.3,1189.9 L345.2,1187.3" fill="none" stroke="#c02a3c" stroke-width="2.1"/>
<path d="M347.5,1180 L349.4,1177.3" fill="none" stroke="#c02a3c" stroke-width="2.1"/>
<path d="M354.1,1170 L358.5,1165.2 L363.6,1161.2" fill="none" stroke="#c02a3c" stroke-width="2.1"/>
<path d="M367.3,1159.6 L369.6,1159.1 L372.8,1160.6" fill="none" stroke="#c02a3c" stroke-width="2.1"/>
<path d="M379.5,1165.2 L382.6,1166.9" fill="none" stroke="#c02a3c" stroke-width="2.1"/>
<path d="M387,1173.6 L389.8,1179 L392.3,1184.7" fill="none" stroke="#c02a3c" stroke-width="2.1"/>
<path d="M395.4,1193.1 L396.7,1195.7" fill="none" stroke="#c02a3c" stroke-width="2.1"/>
<path d="M398.1,1203.6 L399.6,1206.8" fill="none" stroke="#c02a3c" stroke-width="2.1"/>
<path d="M402.3,1215.2 L407.5,1225.7" fill="none" stroke="#c02a3c" stroke-width="2.1"/>
<path d="M411.7,1233.6 L413.5,1235.7" fill="none" stroke="#c02a3c" stroke-width="2.1"/>
<path d="M418.6,1243 L420.1,1245.1" fill="none" stroke="#c02a3c" stroke-width="2.1"/>
<path d="M424.9,1250.9 L429,1254.2 L433.3,1256.7" fill="none" stroke="#c02a3c" stroke-width="2.1"/>
<path d="M437,1258.8 L610,1258.8" fill="none" stroke="#c02a3c" stroke-width="2.1" stroke-dasharray="11.4 8.7 3.5 8.8 3.5 8.7" stroke-dashoffset="3.8"/>
<path d="M100,1256.8 C108.33,1256.8 133.33,1256.83 150,1256.8 C166.67,1256.77 190.5,1256.73 200,1256.6 C209.5,1256.47 204.67,1256.6 207,1256 C209.33,1255.4 210.17,1254.62 214,1253 C217.83,1251.38 225,1248.42 230,1246.3 C235,1244.18 239.5,1242.43 244,1240.3 C248.5,1238.17 253.5,1235.72 257,1233.5 C260.5,1231.28 261.67,1230.2 265,1227 C268.33,1223.8 273.5,1218.17 277,1214.3 C280.5,1210.43 283.67,1206.18 286,1203.8 C288.33,1201.42 290.17,1200.63 291,1200" fill="none" stroke="#2b34a0" stroke-width="2.1" stroke-dasharray="20 10 5 11 5 9" stroke-dashoffset="8.9"/>
<path d="M293.3,1199.3 L297.5,1198.6" fill="none" stroke="#2b34a0" stroke-width="2.1"/>
<path d="M303.6,1205.3 L306.2,1212.5 L308.5,1222" fill="none" stroke="#2b34a0" stroke-width="2.1"/>
<path d="M308.9,1230.9 L310.2,1235.1" fill="none" stroke="#2b34a0" stroke-width="2.1"/>
<path d="M311,1244.1 L312.1,1248.3" fill="none" stroke="#2b34a0" stroke-width="2.1"/>
<path d="M313.2,1257.5 L315.5,1266.5 L317.9,1274.6" fill="none" stroke="#2b34a0" stroke-width="2.1"/>
<path d="M321.8,1283.6 L324.4,1286.6" fill="none" stroke="#2b34a0" stroke-width="2.1"/>
<path d="M327.3,1294.6 L331,1298.7" fill="none" stroke="#2b34a0" stroke-width="2.1"/>
<path d="M336.4,1305.1 L343.5,1310.6 L351.4,1314.7" fill="none" stroke="#2b34a0" stroke-width="2.1"/>
<path d="M359.7,1317.2 L364.5,1317.7" fill="none" stroke="#2b34a0" stroke-width="2.1"/>
<path d="M373.3,1318 L377.7,1317.7" fill="none" stroke="#2b34a0" stroke-width="2.1"/>
<path d="M386.4,1315.8 L394.5,1312 L401.8,1307" fill="none" stroke="#2b34a0" stroke-width="2.1"/>
<path d="M407.3,1299.7 L409.3,1296.1" fill="none" stroke="#2b34a0" stroke-width="2.1"/>
<path d="M411.7,1286.6 L413.4,1282.6" fill="none" stroke="#2b34a0" stroke-width="2.1"/>
<path d="M416.3,1274.5 L418.8,1266 L420.9,1257.7" fill="none" stroke="#2b34a0" stroke-width="2.1"/>
<path d="M422.5,1248.5 L424,1244.9" fill="none" stroke="#2b34a0" stroke-width="2.1"/>
<path d="M425.5,1235.2 L426.8,1231.6" fill="none" stroke="#2b34a0" stroke-width="2.1"/>
<path d="M428.1,1221.9 L429.6,1213 L431.2,1204.5" fill="none" stroke="#2b34a0" stroke-width="2.1"/>
<path d="M434.7,1196.4 L436.5,1194.4 L438.3,1193.3" fill="none" stroke="#2b34a0" stroke-width="2.1"/>
<path d="M447,1195.8 L450.1,1198.9" fill="none" stroke="#2b34a0" stroke-width="2.1"/>
<path d="M454.7,1207.1 L459.5,1214.8 L463.8,1221.6" fill="none" stroke="#2b34a0" stroke-width="2.1"/>
<path d="M470.4,1227.4 L474.3,1229.5" fill="none" stroke="#2b34a0" stroke-width="2.1"/>
<path d="M481.6,1235.1 L486.2,1237.4" fill="none" stroke="#2b34a0" stroke-width="2.1"/>
<path d="M493.9,1241.4 L502,1244 L510.7,1246.2" fill="none" stroke="#2b34a0" stroke-width="2.1"/>
<path d="M519.5,1248.8 L523.7,1250" fill="none" stroke="#2b34a0" stroke-width="2.1"/>
<path d="M532.1,1251.4 L537,1252.7" fill="none" stroke="#2b34a0" stroke-width="2.1"/>
<path d="M546.1,1254.9 L554,1256.3 L562.7,1257" fill="none" stroke="#2b34a0" stroke-width="2.1"/>
<path d="M562.7,1256.9 L610,1256.9" fill="none" stroke="#2b34a0" stroke-width="2.1" stroke-dasharray="20 10 5 11 5 9" stroke-dashoffset="20"/>
<line x1="99.6" y1="1392" x2="99.6" y2="1072" stroke="#3d3d3d" stroke-width="2" />
<path d="M99.6,1061.9 L105.4,1075.2 L99.6,1072.2 L93.8,1075.2 Z" fill="#3d3d3d"/>
<line x1="610.1" y1="1392" x2="610.1" y2="1071" stroke="#3d3d3d" stroke-width="2" />
<path d="M610.1,1060.8 L615.9,1074.1 L610.1,1071.1 L604.3,1074.1 Z" fill="#3d3d3d"/>
<line x1="99.6" y1="1392" x2="624" y2="1392" stroke="#3d3d3d" stroke-width="2" />
<path d="M633.7,1392.1 L620.4,1397.9 L623.4,1392.1 L620.4,1386.3 Z" fill="#3d3d3d"/>
<text x="180.2" y="1084.6" font-size="18.3" font-weight="bold" fill="#2e3d9c" textLength="112.8" lengthAdjust="spacingAndGlyphs">nitrate ODZs</text>
<text x="443.9" y="1084.6" font-size="18.3" font-weight="bold" fill="#2e3d9c" textLength="113" lengthAdjust="spacingAndGlyphs">nitrate ODZs</text>
<text x="308.6" y="1084.6" font-size="18.3" font-weight="bold" fill="#ea1c2d" textLength="121.5" lengthAdjust="spacingAndGlyphs">sulfidic ODZs</text>
<text x="122.7" y="1143" font-size="16.8" font-weight="bold" fill="#6f7a2e" textLength="34.6" lengthAdjust="spacingAndGlyphs">oxic</text>
<text x="571.5" y="1143" font-size="16.8" font-weight="bold" fill="#6f7a2e" textLength="34.6" lengthAdjust="spacingAndGlyphs">oxic</text>
<text x="117.5" y="1183" font-size="23" font-weight="bold" fill="#6f7a2e" textLength="40" lengthAdjust="spacingAndGlyphs">[O<tspan font-size="14" dy="4">2</tspan><tspan dy="-4">]</tspan></text>
<text transform="translate(186.5,1175.5) rotate(36.7)" font-size="16" font-weight="bold" fill="#6f7a2e">suboxic</text>
<text transform="translate(494.5,1213) rotate(-35.5)" font-size="16" font-weight="bold" fill="#6f7a2e">suboxic</text>
<text x="247.8" y="1155" font-size="17.8" font-weight="bold" fill="#000" textLength="84.2" lengthAdjust="spacingAndGlyphs">pre-PETM</text>
<line x1="289.2" y1="1160.3" x2="294.5" y2="1190" stroke="#000" stroke-width="1.6" />
<text x="350.6" y="1154.8" font-size="20" font-weight="bold" fill="#ea1c2d"><tspan font-weight="normal">δ</tspan><tspan font-size="12.5" dy="-7.5">34</tspan><tspan dy="7.5">S</tspan></text>
<text x="342.7" y="1249.8" font-size="16.2" font-weight="bold" fill="#6f7a2e" textLength="52.5" lengthAdjust="spacingAndGlyphs">anoxic</text>
<text x="349.6" y="1309.9" font-size="20" font-weight="bold" fill="#2e3d9c"><tspan font-weight="normal">δ</tspan><tspan font-size="12.5" dy="-7.5">15</tspan><tspan dy="7.5">N</tspan></text>
<text x="332.8" y="1354.5" font-size="17.8" font-weight="bold" fill="#000" textLength="50.9" lengthAdjust="spacingAndGlyphs">PETM</text>
<line x1="357.7" y1="1337.7" x2="369.4" y2="1325.1" stroke="#000" stroke-width="1.6" />
<text x="290.6" y="1383.5" font-size="18.5" font-weight="bold" fill="#2e3d9c" textLength="154.6" lengthAdjust="spacingAndGlyphs">ammonium ODZs</text>
<text x="336.6" y="1421.2" font-size="21" font-weight="bold" fill="#111" textLength="50.6" lengthAdjust="spacingAndGlyphs">Time</text>
<text transform="translate(72.5,1361.5) rotate(-90)" font-size="19" font-weight="bold" fill="#111" textLength="290.2" lengthAdjust="spacingAndGlyphs">South Atlantic <tspan fill="#2e3d9c" font-weight="normal">δ</tspan><tspan fill="#2e3d9c" font-size="12.5" dy="-7.5">15</tspan><tspan fill="#2e3d9c" dy="7.5">N</tspan> or <tspan fill="#ea1c2d" font-weight="normal">δ</tspan><tspan fill="#ea1c2d" font-size="12.5" dy="-7.5">34</tspan><tspan fill="#ea1c2d" dy="7.5">S</tspan> (‰)</text>
<text transform="translate(639.7,1104.8) rotate(90)" font-size="19" font-weight="bold" fill="#111" textLength="217.5" lengthAdjust="spacingAndGlyphs">Dissolved <tspan fill="#6f7a2e">[O</tspan><tspan fill="#6f7a2e" font-size="12.5" dy="4">2</tspan><tspan fill="#6f7a2e" dy="-4">]</tspan> (μmol/kg)</text>
<text x="2.6" y="1059.4" font-size="42.5" fill="#000" font-weight="bold" text-anchor="start" >c</text>
</svg>
</body></html>
